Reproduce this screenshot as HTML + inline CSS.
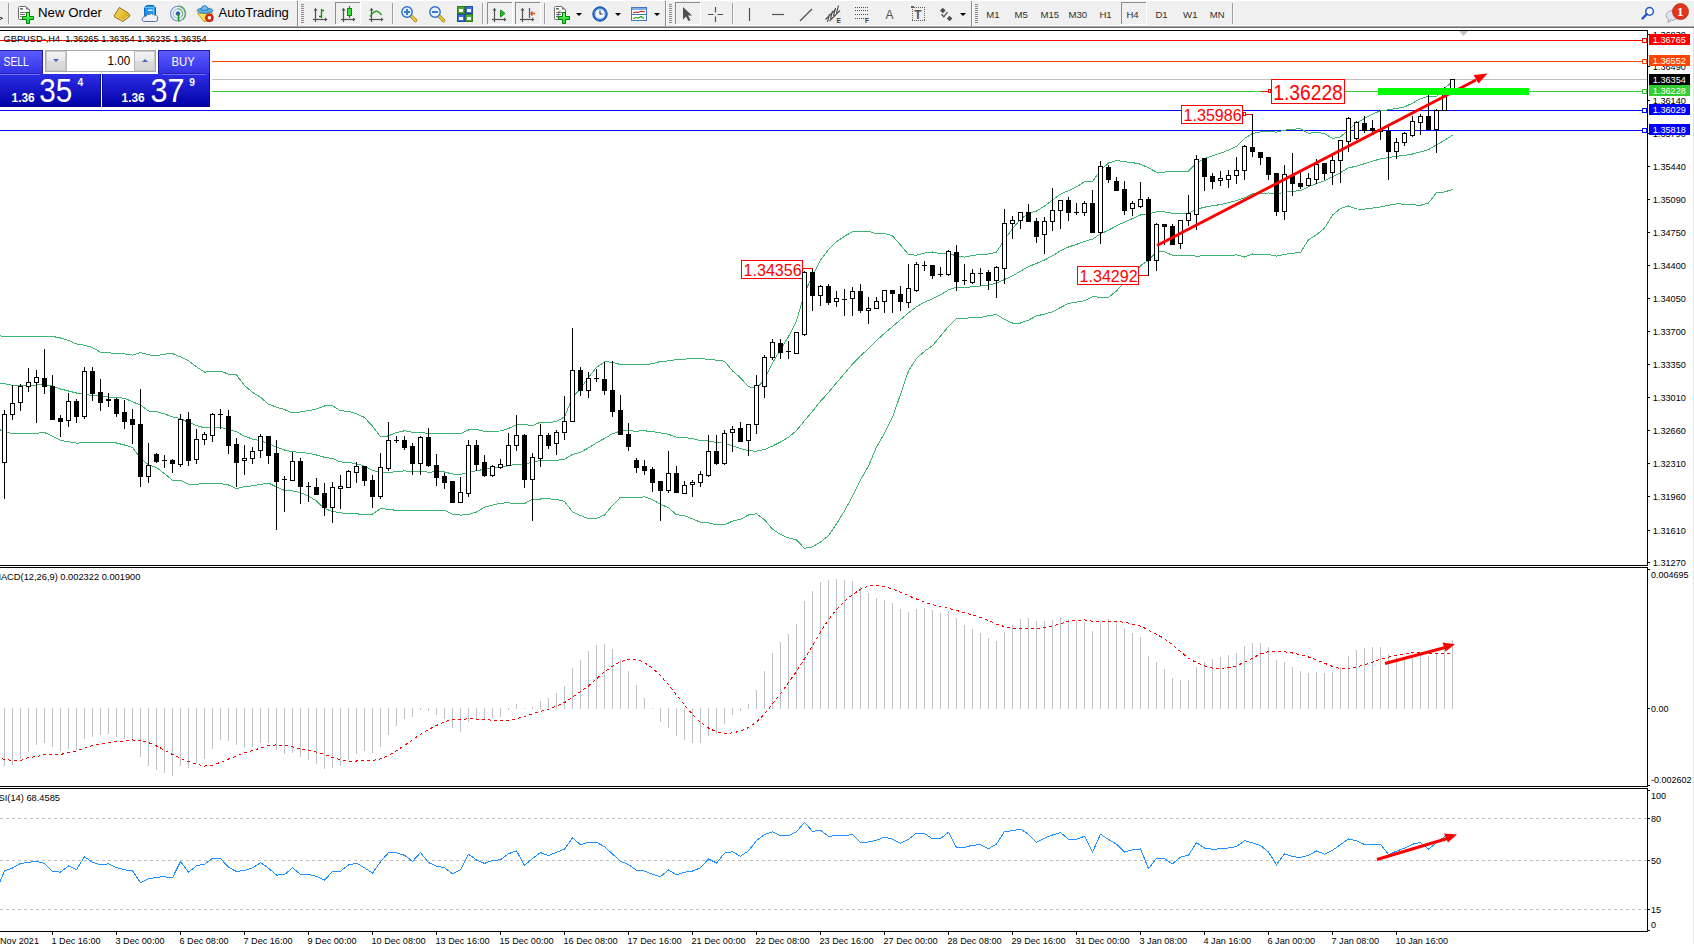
<!DOCTYPE html><html><head><meta charset="utf-8"><title>GBPUSD-,H4</title><style>
html,body{margin:0;padding:0;background:#fff;}
body{width:1694px;height:944px;overflow:hidden;position:relative;font-family:"Liberation Sans",Arial,sans-serif;}
svg{position:absolute;left:0;top:0;display:block;}
</style></head><body>
<svg width="1694" height="944" viewBox="0 0 1694 944" font-family="Liberation Sans, Arial, sans-serif">
<defs>
<linearGradient id="gTop" x1="0" y1="0" x2="0" y2="1"><stop offset="0" stop-color="#5d5dff"/><stop offset="1" stop-color="#3131e4"/></linearGradient>
<linearGradient id="gBot" x1="0" y1="0" x2="0" y2="1"><stop offset="0" stop-color="#2d2de6"/><stop offset="1" stop-color="#0000a4"/></linearGradient>
<linearGradient id="gBtn" x1="0" y1="0" x2="0" y2="1"><stop offset="0" stop-color="#f4f4f4"/><stop offset="0.5" stop-color="#e8e8e8"/><stop offset="0.5" stop-color="#dcdcdc"/><stop offset="1" stop-color="#d4d4d4"/></linearGradient>
<pattern id="pDot" width="2" height="2" patternUnits="userSpaceOnUse"><rect width="2" height="2" fill="#f7f7f7"/><rect width="1" height="1" fill="#e9e9e9"/><rect x="1" y="1" width="1" height="1" fill="#e9e9e9"/></pattern>
</defs>
<g id="toolbar">
<rect x="0" y="0" width="1694" height="26" fill="#f0f0f0"/>
<rect x="0" y="0" width="1694" height="1" fill="#ffffff"/>
<rect x="0" y="25" width="1694" height="1" fill="#f6f6f6"/>
<rect x="0" y="26" width="1694" height="1" fill="#a9a9a9"/>
<rect x="0" y="27" width="1694" height="1" fill="#6c6c6c"/>
<g shape-rendering="crispEdges"><rect x="297" y="1" width="1" height="25" fill="#8a8a8a"/><rect x="298" y="1" width="1" height="24" fill="#ffffff"/>
<rect x="665" y="1" width="1" height="25" fill="#8a8a8a"/><rect x="666" y="1" width="1" height="24" fill="#ffffff"/>
<rect x="971" y="1" width="1" height="25" fill="#8a8a8a"/><rect x="972" y="1" width="1" height="24" fill="#ffffff"/>
<rect x="301" y="4" width="3" height="1" fill="#8c8c8c"/>
<rect x="301" y="6" width="3" height="1" fill="#8c8c8c"/>
<rect x="301" y="8" width="3" height="1" fill="#8c8c8c"/>
<rect x="301" y="10" width="3" height="1" fill="#8c8c8c"/>
<rect x="301" y="12" width="3" height="1" fill="#8c8c8c"/>
<rect x="301" y="14" width="3" height="1" fill="#8c8c8c"/>
<rect x="301" y="16" width="3" height="1" fill="#8c8c8c"/>
<rect x="301" y="18" width="3" height="1" fill="#8c8c8c"/>
<rect x="301" y="20" width="3" height="1" fill="#8c8c8c"/>
<rect x="301" y="22" width="3" height="1" fill="#8c8c8c"/>
<rect x="669" y="4" width="3" height="1" fill="#8c8c8c"/>
<rect x="669" y="6" width="3" height="1" fill="#8c8c8c"/>
<rect x="669" y="8" width="3" height="1" fill="#8c8c8c"/>
<rect x="669" y="10" width="3" height="1" fill="#8c8c8c"/>
<rect x="669" y="12" width="3" height="1" fill="#8c8c8c"/>
<rect x="669" y="14" width="3" height="1" fill="#8c8c8c"/>
<rect x="669" y="16" width="3" height="1" fill="#8c8c8c"/>
<rect x="669" y="18" width="3" height="1" fill="#8c8c8c"/>
<rect x="669" y="20" width="3" height="1" fill="#8c8c8c"/>
<rect x="669" y="22" width="3" height="1" fill="#8c8c8c"/>
<rect x="975" y="4" width="3" height="1" fill="#8c8c8c"/>
<rect x="975" y="6" width="3" height="1" fill="#8c8c8c"/>
<rect x="975" y="8" width="3" height="1" fill="#8c8c8c"/>
<rect x="975" y="10" width="3" height="1" fill="#8c8c8c"/>
<rect x="975" y="12" width="3" height="1" fill="#8c8c8c"/>
<rect x="975" y="14" width="3" height="1" fill="#8c8c8c"/>
<rect x="975" y="16" width="3" height="1" fill="#8c8c8c"/>
<rect x="975" y="18" width="3" height="1" fill="#8c8c8c"/>
<rect x="975" y="20" width="3" height="1" fill="#8c8c8c"/>
<rect x="975" y="22" width="3" height="1" fill="#8c8c8c"/>
<rect x="8" y="3" width="1" height="21" fill="#a0a0a0"/><rect x="9" y="3" width="1" height="21" fill="#ffffff" opacity="0.6"/>
<rect x="392" y="3" width="1" height="21" fill="#a0a0a0"/><rect x="393" y="3" width="1" height="21" fill="#ffffff" opacity="0.6"/>
<rect x="482" y="3" width="1" height="21" fill="#a0a0a0"/><rect x="483" y="3" width="1" height="21" fill="#ffffff" opacity="0.6"/>
<rect x="544" y="3" width="1" height="21" fill="#a0a0a0"/><rect x="545" y="3" width="1" height="21" fill="#ffffff" opacity="0.6"/>
<rect x="732" y="3" width="1" height="21" fill="#a0a0a0"/><rect x="733" y="3" width="1" height="21" fill="#ffffff" opacity="0.6"/>
<rect x="1232" y="3" width="1" height="21" fill="#a0a0a0"/><rect x="1233" y="3" width="1" height="21" fill="#ffffff" opacity="0.6"/>
<rect x="335" y="2" width="25" height="22" fill="url(#pDot)"/>
<rect x="335" y="2" width="25" height="1" fill="#8c8c8c"/><rect x="335" y="2" width="1" height="22" fill="#8c8c8c"/>
<rect x="360" y="2" width="1" height="23" fill="#fff"/><rect x="335" y="24" width="26" height="1" fill="#fff"/>
<rect x="487" y="2" width="25" height="22" fill="url(#pDot)"/>
<rect x="487" y="2" width="25" height="1" fill="#8c8c8c"/><rect x="487" y="2" width="1" height="22" fill="#8c8c8c"/>
<rect x="512" y="2" width="1" height="23" fill="#fff"/><rect x="487" y="24" width="26" height="1" fill="#fff"/>
<rect x="515" y="2" width="25" height="22" fill="url(#pDot)"/>
<rect x="515" y="2" width="25" height="1" fill="#8c8c8c"/><rect x="515" y="2" width="1" height="22" fill="#8c8c8c"/>
<rect x="540" y="2" width="1" height="23" fill="#fff"/><rect x="515" y="24" width="26" height="1" fill="#fff"/>
<rect x="675" y="2" width="25" height="22" fill="url(#pDot)"/>
<rect x="675" y="2" width="25" height="1" fill="#8c8c8c"/><rect x="675" y="2" width="1" height="22" fill="#8c8c8c"/>
<rect x="700" y="2" width="1" height="23" fill="#fff"/><rect x="675" y="24" width="26" height="1" fill="#fff"/>
<rect x="1121" y="2" width="25" height="22" fill="url(#pDot)"/>
<rect x="1121" y="2" width="25" height="1" fill="#8c8c8c"/><rect x="1121" y="2" width="1" height="22" fill="#8c8c8c"/>
<rect x="1146" y="2" width="1" height="23" fill="#fff"/><rect x="1121" y="24" width="26" height="1" fill="#fff"/>
<path d="M0,17 L2,18.5 L0,20" fill="none" stroke="#404040" stroke-width="1"/></g>
<g><g transform="translate(18,6)">
<path d="M1.5,0.5 H8 L11.5,4 V12.5 Q11.5,13.5 10.5,13.5 H1.5 Q0.5,13.5 0.5,12.5 V1.5 Q0.5,0.5 1.5,0.5 Z" fill="#fff" stroke="#6e6e6e"/>
<path d="M8,0.8 V3.5 H11.2 Z" fill="#6e6e6e"/>
<rect x="2" y="2" width="3" height="1.6" fill="#6e6e6e"/><rect x="2" y="6" width="6" height="1" fill="#777"/><rect x="2" y="8" width="5" height="1" fill="#777"/><rect x="2" y="10" width="2" height="1" fill="#777"/>
<path d="M8.5,6.5 h3 v4 h4 v3 h-4 v4 h-3 v-4 h-4 v-3 h4 z" fill="#2fea3a" stroke="#067a06"/>
<rect x="9.3" y="7.3" width="1.4" height="4" fill="#9cff9c" opacity="0.8"/>
</g>
<text x="38" y="17.3" font-size="13.2" fill="#000" textLength="64" lengthAdjust="spacingAndGlyphs">New Order</text>
<defs><linearGradient id="gBook" x1="0" y1="0" x2="1" y2="1"><stop offset="0" stop-color="#f6de6a"/><stop offset="0.6" stop-color="#e2b82c"/><stop offset="1" stop-color="#c89418"/></linearGradient></defs>
<path d="M114.3,15.6 L119.4,7.4 L128.6,13.4 L130,16 L123,21.4 L114.6,17 Z" fill="url(#gBook)" stroke="#9c6410" stroke-linejoin="round"/>
<path d="M115.5,16.4 L122.8,20.2 L129,15.6" fill="none" stroke="#f3d98a" stroke-width="0.9"/>
<path d="M144.5,7.5 L146.5,5.5 H153.5 L155.5,7.5 V15.5 H144.5 Z" fill="#1d93ee" stroke="#0b62c0"/>
<path d="M144.5,7.5 H153.5 L155.5,5.5 M153.5,7.5 V15.5" fill="none" stroke="#7cc8ff" stroke-width="0.9"/>
<rect x="148" y="9.5" width="4.5" height="1.5" fill="#e8f6ff"/>
<path d="M143.5,21.5 Q141.3,20.5 142.5,18.3 Q143,16.2 145.6,16.6 Q146.6,13.8 149.6,14.3 Q151.5,12.6 153.6,14.8 Q157.8,14.8 157.6,18 Q158.4,21.5 155.5,21.5 Z" fill="#eef1f7" stroke="#5a74a4"/>
<g fill="none"><circle cx="178" cy="13.6" r="7.4" stroke="#6d93d8" stroke-width="1.1"/><path d="M178,6.2 A7.4,7.4 0 0 1 182.5,19.5" stroke="#5aa85a" stroke-width="1.3"/><circle cx="178" cy="13.6" r="4.7" stroke="#8fb0e6" stroke-width="1"/><path d="M178,8.9 A4.7,4.7 0 0 1 181.8,16.4" stroke="#6fba6f" stroke-width="1.1"/><circle cx="178" cy="13.6" r="1.8" fill="#2a58c8" stroke="#2a58c8"/><path d="M178.6,13.6 V21.5" stroke="#1aa01a" stroke-width="1.6"/></g>
<path d="M197.6,13.4 L212.6,12.9 L206.3,21.5 L204,21.5 Z" fill="#f7df55" stroke="#c7a01a" stroke-linejoin="round"/>
<ellipse cx="205" cy="10.6" rx="7.8" ry="2.6" fill="#63b0e6" stroke="#2b7db8"/>
<path d="M201,10.2 Q201,5.8 204.5,5.8 Q208,5.8 208,10.2 Z" fill="#78bdec" stroke="#2b7db8"/>
<circle cx="209.4" cy="17.8" r="3.9" fill="#e42a10" stroke="#a01606" stroke-width="0.8"/>
<rect x="207.9" y="16.3" width="3" height="3" fill="#fff"/>
<text x="218.5" y="17.3" font-size="13" fill="#000">AutoTrading</text>
<g transform="translate(313,8)" stroke="#505050" fill="#505050"><path d="M2.5,0.5 V14" stroke-width="1.2" fill="none"/><path d="M0.5,2.5 L2.5,0 L4.5,2.5 Z" stroke="none"/><path d="M0,11.5 H13" stroke-width="1.2" fill="none"/><path d="M12,9.5 L14.5,11.5 L12,13.5 Z" stroke="none"/></g>
<path d="M321.5,9 V18 M319,16.5 H321.5 M321.5,10.5 H324" stroke="#0b8a0b" stroke-width="1.3" fill="none"/>
<g transform="translate(341,8)" stroke="#505050" fill="#505050"><path d="M2.5,0.5 V14" stroke-width="1.2" fill="none"/><path d="M0.5,2.5 L2.5,0 L4.5,2.5 Z" stroke="none"/><path d="M0,11.5 H13" stroke-width="1.2" fill="none"/><path d="M12,9.5 L14.5,11.5 L12,13.5 Z" stroke="none"/></g>
<rect x="347.5" y="8.5" width="4" height="7" fill="#3fdc3f" stroke="#0a8a0a"/><path d="M349.5,6 V8.5 M349.5,15.5 V18" stroke="#0a8a0a" stroke-width="1.2"/>
<g transform="translate(369,8)" stroke="#505050" fill="#505050"><path d="M2.5,0.5 V14" stroke-width="1.2" fill="none"/><path d="M0.5,2.5 L2.5,0 L4.5,2.5 Z" stroke="none"/><path d="M0,11.5 H13" stroke-width="1.2" fill="none"/><path d="M12,9.5 L14.5,11.5 L12,13.5 Z" stroke="none"/></g>
<path d="M370,16.5 Q373,12 376,11.3 Q378.5,11 381.5,15" stroke="#2e9e2e" stroke-width="1.4" fill="none"/>
<g transform="translate(401,6)"><path d="M9.5,9.5 L14.5,14.5" stroke="#9c7c10" stroke-width="3.4" stroke-linecap="round"/><path d="M9.5,9.5 L14.5,14.5" stroke="#f0d040" stroke-width="2" stroke-linecap="round"/><circle cx="6" cy="6" r="5.2" fill="#e4f1ff" stroke="#2f6fc6" stroke-width="1.4"/>
<rect x="3" y="5" width="6" height="2" fill="#3a78c8"/>
<rect x="5" y="3" width="2" height="6" fill="#3a78c8"/>
</g>
<g transform="translate(429,6)"><path d="M9.5,9.5 L14.5,14.5" stroke="#9c7c10" stroke-width="3.4" stroke-linecap="round"/><path d="M9.5,9.5 L14.5,14.5" stroke="#f0d040" stroke-width="2" stroke-linecap="round"/><circle cx="6" cy="6" r="5.2" fill="#e4f1ff" stroke="#2f6fc6" stroke-width="1.4"/>
<rect x="3" y="5" width="6" height="2" fill="#3a78c8"/>
</g>
<g transform="translate(457,6)">
<rect x="0.5" y="0.5" width="7" height="7" fill="#49a834" stroke="#2f7d1e"/><rect x="2" y="3" width="4" height="3" fill="#fff"/>
<rect x="8.5" y="0.5" width="7" height="7" fill="#3c6fd8" stroke="#1f4aa6"/><rect x="10" y="3" width="4" height="3" fill="#fff"/>
<rect x="0.5" y="8.5" width="7" height="7" fill="#3c6fd8" stroke="#1f4aa6"/><rect x="2" y="11" width="4" height="3" fill="#fff"/>
<rect x="8.5" y="8.5" width="7" height="7" fill="#49a834" stroke="#2f7d1e"/><rect x="10" y="11" width="4" height="3" fill="#fff"/>
</g>
<g transform="translate(492,8)" stroke="#505050" fill="#505050"><path d="M2.5,0.5 V14" stroke-width="1.2" fill="none"/><path d="M0.5,2.5 L2.5,0 L4.5,2.5 Z" stroke="none"/><path d="M0,11.5 H13" stroke-width="1.2" fill="none"/><path d="M12,9.5 L14.5,11.5 L12,13.5 Z" stroke="none"/></g>
<path d="M500.5,10 L505,13.5 L500.5,17 Z" fill="#2cb82c" stroke="#139013" stroke-width="1"/>
<g transform="translate(520,8)" stroke="#505050" fill="#505050"><path d="M2.5,0.5 V14" stroke-width="1.2" fill="none"/><path d="M0.5,2.5 L2.5,0 L4.5,2.5 Z" stroke="none"/><path d="M0,11.5 H13" stroke-width="1.2" fill="none"/><path d="M12,9.5 L14.5,11.5 L12,13.5 Z" stroke="none"/></g>
<path d="M529.5,8 V18" stroke="#1f6fd0" stroke-width="1.3"/><path d="M530.5,13.5 H535 M530.5,13.5 L532.5,11.5 M530.5,13.5 L532.5,15.5" stroke="#e05010" stroke-width="1.3" fill="none"/>
<path d="M555.5,7.5 H561 L564.5,11 V19.5 H555.5 Z" fill="#f4f4f4" stroke="#8a8a8a"/>
<g transform="translate(554,6)">
<path d="M1.5,0.5 H8 L11.5,4 V12.5 Q11.5,13.5 10.5,13.5 H1.5 Q0.5,13.5 0.5,12.5 V1.5 Q0.5,0.5 1.5,0.5 Z" fill="#fff" stroke="#6e6e6e"/>
<path d="M8,0.8 V3.5 H11.2 Z" fill="#6e6e6e"/>
<rect x="2" y="2" width="3" height="1.6" fill="#6e6e6e"/><rect x="2" y="6" width="6" height="1" fill="#777"/><rect x="2" y="8" width="5" height="1" fill="#777"/><rect x="2" y="10" width="2" height="1" fill="#777"/>
<path d="M8.5,6.5 h3 v4 h4 v3 h-4 v4 h-3 v-4 h-4 v-3 h4 z" fill="#2fea3a" stroke="#067a06"/>
<rect x="9.3" y="7.3" width="1.4" height="4" fill="#9cff9c" opacity="0.8"/>
</g>
<text x="557.2" y="16" font-size="9" font-style="italic" font-family="Liberation Serif, serif" fill="#444">f</text>
<path d="M576,13 H582 L579,16 Z" fill="#000"/>
<path d="M615,13 H621 L618,16 Z" fill="#000"/>
<path d="M654,13 H660 L657,16 Z" fill="#000"/>
<path d="M960,13 H966 L963,16 Z" fill="#000"/>
<g transform="translate(592,6)"><circle cx="8" cy="8" r="7.2" fill="#2a72d0" stroke="#164f9e"/><circle cx="8" cy="8" r="5" fill="#f4f8ff" stroke="#9cc1ec"/><path d="M8,4.5 V8 H10.5" stroke="#303030" stroke-width="1.1" fill="none"/><path d="M8,3.3 V4 M8,12 V12.7 M3.3,8 H4 M12,8 H12.7" stroke="#7090c0" stroke-width="0.8"/></g>
<g transform="translate(631,7)"><rect x="0.5" y="0.5" width="15" height="13" fill="#fff" stroke="#3f78c8"/><rect x="1" y="1" width="14" height="2" fill="#7fb0e8"/><rect x="1" y="7" width="14" height="1" fill="#3f78c8"/><path d="M2,6 L5,5 L7,5.5 L10,4.2 L14,4.8" stroke="#b02818" fill="none" stroke-width="1.1"/><path d="M2,11.5 L5,10.5 L7,11.2 L10,9.5 L13,11.5" stroke="#159a15" fill="none" stroke-width="1.1"/></g>
<path d="M683,7 L683,19.5 L686,16.5 L688.5,21 L690.5,20 L688,15.5 L692,15.5 Z" fill="#505050"/>
<path d="M715.5,7 V12.5 M715.5,16.5 V22 M708,14.5 H713.5 M717.5,14.5 H723" stroke="#505050" stroke-width="1.2"/>
<path d="M749.5,8 V21" stroke="#505050" stroke-width="1.2"/>
<path d="M772,14.5 H784" stroke="#505050" stroke-width="1.2"/>
<path d="M800,21 L812,9" stroke="#505050" stroke-width="1.2"/>
<path d="M825.5,19.5 L836,9 M829.5,21 L840,10.5 M827.5,22 L829.5,14 M830.5,19 L832.5,11 M833.5,16 L835.5,8 M836.5,13 L838.5,5.5" stroke="#505050" stroke-width="1.1" fill="none"/><text x="836.5" y="22.6" font-size="6.6" font-weight="bold" fill="#404040">E</text>
<g fill="#505050">
<rect x="855" y="7" width="1" height="1"/>
<rect x="857" y="7" width="1" height="1"/>
<rect x="859" y="7" width="1" height="1"/>
<rect x="861" y="7" width="1" height="1"/>
<rect x="863" y="7" width="1" height="1"/>
<rect x="865" y="7" width="1" height="1"/>
<rect x="867" y="7" width="1" height="1"/>
<rect x="855" y="10" width="1" height="1"/>
<rect x="857" y="10" width="1" height="1"/>
<rect x="859" y="10" width="1" height="1"/>
<rect x="861" y="10" width="1" height="1"/>
<rect x="863" y="10" width="1" height="1"/>
<rect x="865" y="10" width="1" height="1"/>
<rect x="867" y="10" width="1" height="1"/>
<rect x="855" y="14" width="1" height="1"/>
<rect x="857" y="14" width="1" height="1"/>
<rect x="859" y="14" width="1" height="1"/>
<rect x="861" y="14" width="1" height="1"/>
<rect x="863" y="14" width="1" height="1"/>
<rect x="865" y="14" width="1" height="1"/>
<rect x="867" y="14" width="1" height="1"/>
<rect x="855" y="18" width="1" height="1"/>
<rect x="857" y="18" width="1" height="1"/>
<rect x="859" y="18" width="1" height="1"/>
<rect x="861" y="18" width="1" height="1"/>
<rect x="863" y="18" width="1" height="1"/>
<rect x="865" y="18" width="1" height="1"/>
<rect x="867" y="18" width="1" height="1"/>
</g><text x="865" y="22.5" font-size="6.5" font-weight="bold" fill="#404040">F</text>
<text x="885.6" y="19" font-size="12" fill="#505050">A</text>
<g fill="#606060" shape-rendering="crispEdges"><rect x="912" y="7" width="1" height="1"/><rect x="912" y="20" width="1" height="1"/><rect x="914" y="7" width="1" height="1"/><rect x="914" y="20" width="1" height="1"/><rect x="916" y="7" width="1" height="1"/><rect x="916" y="20" width="1" height="1"/><rect x="918" y="7" width="1" height="1"/><rect x="918" y="20" width="1" height="1"/><rect x="920" y="7" width="1" height="1"/><rect x="920" y="20" width="1" height="1"/><rect x="922" y="7" width="1" height="1"/><rect x="922" y="20" width="1" height="1"/><rect x="924" y="7" width="1" height="1"/><rect x="924" y="20" width="1" height="1"/><rect x="912" y="9" width="1" height="1"/><rect x="924" y="9" width="1" height="1"/><rect x="912" y="11" width="1" height="1"/><rect x="924" y="11" width="1" height="1"/><rect x="912" y="13" width="1" height="1"/><rect x="924" y="13" width="1" height="1"/><rect x="912" y="15" width="1" height="1"/><rect x="924" y="15" width="1" height="1"/><rect x="912" y="17" width="1" height="1"/><rect x="924" y="17" width="1" height="1"/><rect x="912" y="19" width="1" height="1"/><rect x="924" y="19" width="1" height="1"/><rect x="911" y="6" width="3" height="2"/></g><text x="914.2" y="18.6" font-size="12" font-weight="bold" fill="#555">T</text>
<path d="M940,10.5 L942.8,7.7 L945.6,10.5 L942.8,13.3 Z M946.8,18.5 L949.6,15.7 L952.4,18.5 L949.6,21.3 Z" fill="#505050"/><path d="M941.5,14.2 L943.8,16.8 L947.5,12.2" stroke="#505050" stroke-width="1.3" fill="none"/>
<text x="986.3" y="18" font-size="9.6" fill="#303030">M1</text>
<text x="1014.6" y="18" font-size="9.6" fill="#303030">M5</text>
<text x="1040.5" y="18" font-size="9.6" fill="#303030">M15</text>
<text x="1068.4" y="18" font-size="9.6" fill="#303030">M30</text>
<text x="1099.4" y="18" font-size="9.6" fill="#303030">H1</text>
<text x="1126.4" y="18" font-size="9.6" fill="#303030">H4</text>
<text x="1155.4" y="18" font-size="9.6" fill="#303030">D1</text>
<text x="1183.1" y="18" font-size="9.6" fill="#303030">W1</text>
<text x="1209.7" y="18" font-size="9.6" fill="#303030">MN</text>
<g transform="translate(1641,6)"><circle cx="8.5" cy="5.4" r="3.8" fill="#fff" stroke="#2456c8" stroke-width="1.5"/><path d="M5.8,8.2 L1.5,12.5" stroke="#2456c8" stroke-width="2.4" stroke-linecap="round"/></g>
<g transform="translate(1666,10)"><ellipse cx="6" cy="5.5" rx="5.8" ry="4.8" fill="#e3e6ef" stroke="#a8a8a8"/><path d="M2.5,9 L2,12.5 L5.5,10" fill="#e3e6ef" stroke="#a8a8a8"/></g>
<circle cx="1680.5" cy="11.6" r="8" fill="#e0341c"/><circle cx="1680.5" cy="11.6" r="8" fill="none" stroke="#c42a14" stroke-width="0.8"/><text x="1677" y="16.2" font-size="13" font-family="Liberation Serif, serif" font-weight="bold" fill="#fff">1</text></g>
</g>
<g id="chart" shape-rendering="crispEdges">
<rect x="0" y="30" width="1648" height="1" fill="#000"/>
<rect x="1647" y="30" width="1" height="536" fill="#000"/>
<rect x="0" y="565" width="1648" height="1" fill="#000"/>
<rect x="0" y="567" width="1648" height="1" fill="#000"/>
<rect x="1647" y="567" width="1" height="220" fill="#000"/>
<rect x="0" y="786" width="1648" height="1" fill="#000"/>
<rect x="0" y="788" width="1648" height="1" fill="#000"/>
<rect x="1647" y="788" width="1" height="144" fill="#000"/>
<rect x="0" y="931" width="1648" height="1" fill="#000"/>
<rect x="1693" y="28" width="1" height="916" fill="#e3e3e3"/>
</g>
<g shape-rendering="crispEdges">
<rect x="0" y="79" width="1647" height="1" fill="#c0c0c0"/>
<rect x="0" y="40" width="1642" height="1" fill="#ff0000"/>
<rect x="1642.5" y="38.5" width="4" height="4" fill="#fff" stroke="#ff0000" stroke-width="1"/>
<rect x="0" y="61" width="1642" height="1" fill="#ff4500"/>
<rect x="1642.5" y="59.5" width="4" height="4" fill="#fff" stroke="#ff4500" stroke-width="1"/>
<rect x="0" y="91" width="1642" height="1" fill="#32cd32"/>
<rect x="1642.5" y="89.5" width="4" height="4" fill="#fff" stroke="#32cd32" stroke-width="1"/>
<rect x="0" y="110" width="1642" height="1" fill="#0000ff"/>
<rect x="1642.5" y="108.5" width="4" height="4" fill="#fff" stroke="#0000ff" stroke-width="1"/>
<rect x="0" y="130" width="1642" height="1" fill="#0000ff"/>
<rect x="1642.5" y="128.5" width="4" height="4" fill="#fff" stroke="#0000ff" stroke-width="1"/>
</g>
<g id="bb">
<polyline points="-3.5,335.5 4.5,336.5 12.5,337 20.5,336.6 28.5,336.4 36.5,336.4 44.5,336.4 52.5,336.4 60.5,338 68.5,340.5 76.5,344 84.5,345.3 92.5,347.5 100.5,352.2 108.5,352.8 116.5,353.4 124.5,354 132.5,355.1 140.5,352.6 148.5,354.8 156.5,355.7 164.5,354.1 172.5,353.6 180.5,356.9 188.5,360.6 196.5,366.9 204.5,372.1 212.5,371.6 220.5,371.1 228.5,374.1 236.5,375 244.5,385.6 252.5,392.3 260.5,397.3 268.5,404.2 276.5,407.1 284.5,409.6 292.5,412.9 300.5,411.9 308.5,410.7 316.5,408.9 324.5,406 332.5,405.6 340.5,410.8 348.5,411.3 356.5,413.7 364.5,417.5 372.5,426.2 380.5,436.8 388.5,435.9 396.5,432.5 404.5,430.8 412.5,432.2 420.5,432.3 428.5,433.5 436.5,433.5 444.5,433.5 452.5,433.7 460.5,433.5 468.5,430 476.5,429.5 484.5,431.3 492.5,431.1 500.5,431 508.5,428.5 516.5,424.7 524.5,424.7 532.5,425.5 540.5,422.2 548.5,422.8 556.5,421.4 564.5,416.9 572.5,397.3 580.5,388.8 588.5,377.2 596.5,367.5 604.5,361.8 612.5,362.2 620.5,364.6 628.5,364.6 636.5,364.4 644.5,364.8 652.5,363.6 660.5,361.5 668.5,360.9 676.5,359.6 684.5,359.2 692.5,358.4 700.5,358.9 708.5,359.1 716.5,360.2 724.5,361.2 732.5,370.9 740.5,377.8 748.5,386.7 756.5,388.6 764.5,379.3 772.5,363.1 780.5,349.4 788.5,336.6 796.5,321.1 804.5,293 812.5,275.8 820.5,260.2 828.5,249.5 836.5,241.8 844.5,236.2 852.5,231.7 860.5,231.8 868.5,231.2 876.5,234 884.5,233.6 892.5,235.8 900.5,245 908.5,254.6 916.5,255.2 924.5,253.1 932.5,252 940.5,253.8 948.5,253.2 956.5,256.1 964.5,257.1 972.5,255.6 980.5,254.3 988.5,254 996.5,252.1 1004.5,239.7 1012.5,228.9 1020.5,219.1 1028.5,213.4 1036.5,211 1044.5,206 1052.5,200 1060.5,194.1 1068.5,190.7 1076.5,186.8 1084.5,181.8 1092.5,181.6 1100.5,170.4 1108.5,163 1116.5,160.5 1124.5,161.8 1132.5,162.6 1140.5,164.2 1148.5,167.8 1156.5,172.1 1164.5,172.1 1172.5,171.1 1180.5,171.3 1188.5,171.1 1196.5,162.6 1204.5,158.6 1212.5,155.8 1220.5,153.3 1228.5,150.1 1236.5,146.3 1244.5,138.5 1252.5,133.4 1260.5,132 1268.5,131.5 1276.5,132.1 1284.5,130.2 1292.5,129.3 1300.5,128.7 1308.5,133.3 1316.5,132.4 1324.5,133.5 1332.5,138.4 1340.5,136.9 1348.5,129.8 1356.5,123.1 1364.5,118.4 1372.5,114.3 1380.5,110.6 1388.5,109.9 1396.5,108.4 1404.5,106.9 1412.5,103.2 1420.5,98.6 1428.5,96.4 1436.5,96.7 1444.5,88.7 1452.5,81" fill="none" stroke="#3cb371" stroke-width="1" shape-rendering="crispEdges"/>
<polyline points="-3.5,382.5 4.5,383.8 12.5,385.3 20.5,385.3 28.5,385.3 36.5,385 44.5,384.8 52.5,386 60.5,389 68.5,391 76.5,393 84.5,394.3 92.5,395.5 100.5,396.3 108.5,397 116.5,397.5 124.5,398.3 132.5,401.8 140.5,405 148.5,411 156.5,411.6 164.5,413.9 172.5,416.9 180.5,418.6 188.5,422.4 196.5,425.5 204.5,427.9 212.5,427.7 220.5,427.4 228.5,429.5 236.5,431.8 244.5,436.2 252.5,439.1 260.5,440.8 268.5,443.6 276.5,447 284.5,450 292.5,451.8 300.5,452.3 308.5,453.3 316.5,455 324.5,457.3 332.5,458.5 340.5,461.9 348.5,462.4 356.5,463.8 364.5,466.1 372.5,470.1 380.5,472.8 388.5,472.6 396.5,471.5 404.5,470.9 412.5,471.5 420.5,471.5 428.5,472.1 436.5,471.9 444.5,472 452.5,474 460.5,474.3 468.5,472.3 476.5,470.8 484.5,469.2 492.5,468.1 500.5,467 508.5,465.7 516.5,464.2 524.5,464.2 532.5,462.2 540.5,460.6 548.5,460.8 556.5,460.4 564.5,459.2 572.5,454.5 580.5,452.2 588.5,447.9 596.5,442.9 604.5,438.4 612.5,433.8 620.5,430.9 628.5,430.9 636.5,431.1 644.5,430.8 652.5,431.6 660.5,432.9 668.5,434.3 676.5,437.1 684.5,437.4 692.5,438.7 700.5,440.6 708.5,440.9 716.5,442.5 724.5,443.1 732.5,446 740.5,448.5 748.5,450.8 756.5,451.2 764.5,449.5 772.5,446.1 780.5,442 788.5,437.3 796.5,430.5 804.5,420.7 812.5,411.3 820.5,401.1 828.5,392.5 836.5,382.9 844.5,373.5 852.5,364 860.5,355.8 868.5,348.6 876.5,340.5 884.5,333.4 892.5,326.6 900.5,319.6 908.5,312.8 916.5,306.8 924.5,302.2 932.5,298.8 940.5,294.9 948.5,289.9 956.5,287.3 964.5,287.7 972.5,286.6 980.5,286 988.5,284.9 996.5,283.3 1004.5,279.5 1012.5,275.9 1020.5,271.1 1028.5,266.7 1036.5,263.4 1044.5,260 1052.5,255.9 1060.5,250.8 1068.5,247 1076.5,244.4 1084.5,241.3 1092.5,239.2 1100.5,233.8 1108.5,230.2 1116.5,225.7 1124.5,222.2 1132.5,218.6 1140.5,215 1148.5,214 1156.5,211.8 1164.5,212 1172.5,213.2 1180.5,213.6 1188.5,213.2 1196.5,209.4 1204.5,207.2 1212.5,205.7 1220.5,204.6 1228.5,202.7 1236.5,200.6 1244.5,197.8 1252.5,193.7 1260.5,193.3 1268.5,193 1276.5,194.1 1284.5,192.3 1292.5,191.3 1300.5,190.6 1308.5,186.6 1316.5,183.6 1324.5,180.9 1332.5,176.7 1340.5,172.7 1348.5,167.9 1356.5,166.1 1364.5,163.7 1372.5,161.2 1380.5,158.8 1388.5,157.6 1396.5,156.2 1404.5,155.5 1412.5,154 1420.5,151.9 1428.5,149.7 1436.5,144.7 1444.5,140.4 1452.5,135.2" fill="none" stroke="#3cb371" stroke-width="1" shape-rendering="crispEdges"/>
<polyline points="-3.5,428.5 4.5,431.5 12.5,433.6 20.5,433.6 28.5,433.6 36.5,433.2 44.5,432.5 52.5,436.3 60.5,440.3 68.5,441.8 76.5,443.1 84.5,442.8 92.5,442.4 100.5,442.1 108.5,442.5 116.5,443 124.5,445 132.5,447.6 140.5,458 148.5,465 156.5,467.5 164.5,473.7 172.5,480.2 180.5,480.2 188.5,484.2 196.5,484.1 204.5,483.8 212.5,483.7 220.5,483.6 228.5,485 236.5,488.6 244.5,486.7 252.5,485.9 260.5,484.4 268.5,483.1 276.5,486.9 284.5,490.4 292.5,490.8 300.5,492.7 308.5,496 316.5,501 324.5,508.6 332.5,511.4 340.5,512.9 348.5,513.6 356.5,513.8 364.5,514.6 372.5,514.1 380.5,508.7 388.5,509.2 396.5,510.5 404.5,511 412.5,510.8 420.5,510.7 428.5,510.6 436.5,510.2 444.5,510.4 452.5,514.3 460.5,515.1 468.5,514.6 476.5,512 484.5,507.1 492.5,505.1 500.5,503.1 508.5,502.9 516.5,503.6 524.5,503.6 532.5,499 540.5,499 548.5,498.8 556.5,499.5 564.5,501.4 572.5,511.8 580.5,515.6 588.5,518.6 596.5,518.4 604.5,515 612.5,505.4 620.5,497.2 628.5,497.3 636.5,497.7 644.5,496.8 652.5,499.6 660.5,504.3 668.5,507.7 676.5,514.7 684.5,515.7 692.5,518.9 700.5,522.3 708.5,522.8 716.5,524.8 724.5,524.9 732.5,521.1 740.5,519.3 748.5,515 756.5,513.8 764.5,519.8 772.5,529.1 780.5,534.5 788.5,537.9 796.5,540 804.5,548.3 812.5,546.9 820.5,542 828.5,535.6 836.5,523.9 844.5,510.9 852.5,496.3 860.5,479.7 868.5,466.1 876.5,447.1 884.5,433.1 892.5,417.3 900.5,394.3 908.5,371 916.5,358.3 924.5,351.3 932.5,345.6 940.5,336 948.5,326.5 956.5,318.5 964.5,318.3 972.5,317.7 980.5,317.6 988.5,315.7 996.5,314.5 1004.5,319.3 1012.5,323 1020.5,323 1028.5,320.1 1036.5,315.9 1044.5,314.1 1052.5,311.8 1060.5,307.5 1068.5,303.4 1076.5,302.1 1084.5,300.8 1092.5,296.8 1100.5,297.2 1108.5,297.4 1116.5,290.9 1124.5,282.5 1132.5,274.7 1140.5,265.8 1148.5,260.2 1156.5,251.6 1164.5,251.9 1172.5,255.3 1180.5,255.9 1188.5,255.3 1196.5,256.2 1204.5,255.8 1212.5,255.6 1220.5,255.8 1228.5,255.4 1236.5,254.9 1244.5,257 1252.5,254 1260.5,254.5 1268.5,254.6 1276.5,256.1 1284.5,254.4 1292.5,253.3 1300.5,252.5 1308.5,239.8 1316.5,234.7 1324.5,228.2 1332.5,215 1340.5,208.5 1348.5,206 1356.5,209 1364.5,209.1 1372.5,208.1 1380.5,206.9 1388.5,205.2 1396.5,203.9 1404.5,204.1 1412.5,204.8 1420.5,205.3 1428.5,203 1436.5,192.6 1444.5,192 1452.5,189.4" fill="none" stroke="#3cb371" stroke-width="1" shape-rendering="crispEdges"/>
</g>
<rect x="741.5" y="260.5" width="61" height="18" fill="#fff" stroke="#ff0000" shape-rendering="crispEdges"/>
<text x="743.6" y="275.6" font-size="16" fill="#ff0000" textLength="58" lengthAdjust="spacingAndGlyphs">1.34356</text>
<polyline points="802.5,268.5 812.5,268.5" fill="none" stroke="#ff0000" shape-rendering="crispEdges"/>
<rect x="1077.5" y="266.5" width="61" height="18" fill="#fff" stroke="#ff0000" shape-rendering="crispEdges"/>
<text x="1079.6" y="281.6" font-size="16" fill="#ff0000" textLength="58" lengthAdjust="spacingAndGlyphs">1.34292</text>
<polyline points="1138.5,275.5 1148.5,275.5" fill="none" stroke="#ff0000" shape-rendering="crispEdges"/>
<rect x="1181.5" y="105.5" width="61" height="18" fill="#fff" stroke="#ff0000" shape-rendering="crispEdges"/>
<text x="1183.6" y="120.6" font-size="16" fill="#ff0000" textLength="58" lengthAdjust="spacingAndGlyphs">1.35986</text>
<polyline points="1242.5,114.5 1252.5,114.5" fill="none" stroke="#ff0000" shape-rendering="crispEdges"/>
<rect x="1243.5" y="112.5" width="2" height="3" fill="#fff" stroke="#ff0000" shape-rendering="crispEdges"/>
<rect x="1271.5" y="79.5" width="73" height="24" fill="#fff" stroke="#ff0000" shape-rendering="crispEdges"/>
<text x="1273.3" y="99.6" font-size="21.5" fill="#ff0000" textLength="69.5" lengthAdjust="spacingAndGlyphs">1.36228</text>
<polyline points="1261,91.5 1268.5,91.5" fill="none" stroke="#ff0000" shape-rendering="crispEdges"/>
<rect x="1268.5" y="89.5" width="2" height="3" fill="#fff" stroke="#ff0000" shape-rendering="crispEdges"/>
<g id="candles" shape-rendering="crispEdges">
<rect x="4" y="410" width="1" height="89" fill="#000"/>
<rect x="2.5" y="414.5" width="4" height="48" fill="#fff" stroke="#000"/>
<rect x="12" y="385" width="1" height="35" fill="#000"/>
<rect x="10.5" y="403.5" width="4" height="11" fill="#fff" stroke="#000"/>
<rect x="20" y="384" width="1" height="27" fill="#000"/>
<rect x="18.5" y="386.5" width="4" height="16" fill="#fff" stroke="#000"/>
<rect x="28" y="368" width="1" height="24" fill="#000"/>
<rect x="26.5" y="382.5" width="4" height="4" fill="#fff" stroke="#000"/>
<rect x="36" y="370" width="1" height="53" fill="#000"/>
<rect x="34.5" y="377.5" width="4" height="5" fill="#fff" stroke="#000"/>
<rect x="44" y="349" width="1" height="45" fill="#000"/>
<rect x="42" y="378" width="5" height="9" fill="#000"/>
<rect x="52" y="375" width="1" height="45" fill="#000"/>
<rect x="50" y="386" width="5" height="34" fill="#000"/>
<rect x="60" y="415" width="1" height="22" fill="#000"/>
<rect x="58" y="418" width="5" height="4" fill="#000"/>
<rect x="68" y="393" width="1" height="34" fill="#000"/>
<rect x="66.5" y="401.5" width="4" height="19" fill="#fff" stroke="#000"/>
<rect x="76" y="399" width="1" height="24" fill="#000"/>
<rect x="74" y="401" width="5" height="16" fill="#000"/>
<rect x="84" y="367" width="1" height="52" fill="#000"/>
<rect x="82.5" y="371.5" width="4" height="45" fill="#fff" stroke="#000"/>
<rect x="92" y="367" width="1" height="34" fill="#000"/>
<rect x="90" y="371" width="5" height="23" fill="#000"/>
<rect x="100" y="379" width="1" height="32" fill="#000"/>
<rect x="98" y="392" width="5" height="11" fill="#000"/>
<rect x="108" y="393" width="1" height="14" fill="#000"/>
<rect x="106" y="399" width="5" height="2" fill="#000"/>
<rect x="116" y="398" width="1" height="19" fill="#000"/>
<rect x="114" y="399" width="5" height="15" fill="#000"/>
<rect x="124" y="400" width="1" height="29" fill="#000"/>
<rect x="122" y="412" width="5" height="10" fill="#000"/>
<rect x="132" y="409" width="1" height="35" fill="#000"/>
<rect x="130" y="419" width="5" height="6" fill="#000"/>
<rect x="140" y="389" width="1" height="98" fill="#000"/>
<rect x="138" y="424" width="5" height="53" fill="#000"/>
<rect x="148" y="443" width="1" height="40" fill="#000"/>
<rect x="146.5" y="465.5" width="4" height="11" fill="#fff" stroke="#000"/>
<rect x="156" y="453" width="1" height="10" fill="#000"/>
<rect x="154" y="454" width="5" height="8" fill="#000"/>
<rect x="164" y="455" width="1" height="13" fill="#000"/>
<rect x="162" y="460" width="5" height="1" fill="#000"/>
<rect x="172" y="459" width="1" height="14" fill="#000"/>
<rect x="170" y="460" width="5" height="4" fill="#000"/>
<rect x="180" y="414" width="1" height="53" fill="#000"/>
<rect x="178.5" y="419.5" width="4" height="45" fill="#fff" stroke="#000"/>
<rect x="188" y="412" width="1" height="54" fill="#000"/>
<rect x="186" y="419" width="5" height="42" fill="#000"/>
<rect x="196" y="429" width="1" height="35" fill="#000"/>
<rect x="194.5" y="439.5" width="4" height="20" fill="#fff" stroke="#000"/>
<rect x="204" y="432" width="1" height="13" fill="#000"/>
<rect x="202.5" y="434.5" width="4" height="5" fill="#fff" stroke="#000"/>
<rect x="212" y="413" width="1" height="29" fill="#000"/>
<rect x="210.5" y="414.5" width="4" height="21" fill="#fff" stroke="#000"/>
<rect x="220" y="409" width="1" height="20" fill="#000"/>
<rect x="218" y="414" width="5" height="1" fill="#000"/>
<rect x="228" y="410" width="1" height="44" fill="#000"/>
<rect x="226" y="416" width="5" height="30" fill="#000"/>
<rect x="236" y="438" width="1" height="49" fill="#000"/>
<rect x="234" y="444" width="5" height="19" fill="#000"/>
<rect x="244" y="445" width="1" height="30" fill="#000"/>
<rect x="242.5" y="458.5" width="4" height="2" fill="#fff" stroke="#000"/>
<rect x="252" y="447" width="1" height="17" fill="#000"/>
<rect x="250.5" y="451.5" width="4" height="7" fill="#fff" stroke="#000"/>
<rect x="260" y="434" width="1" height="24" fill="#000"/>
<rect x="258.5" y="436.5" width="4" height="14" fill="#fff" stroke="#000"/>
<rect x="268" y="436" width="1" height="28" fill="#000"/>
<rect x="266" y="436" width="5" height="20" fill="#000"/>
<rect x="276" y="440" width="1" height="90" fill="#000"/>
<rect x="274" y="453" width="5" height="29" fill="#000"/>
<rect x="284" y="476" width="1" height="36" fill="#000"/>
<rect x="282" y="479" width="5" height="1" fill="#000"/>
<rect x="292" y="452" width="1" height="29" fill="#000"/>
<rect x="290.5" y="461.5" width="4" height="19" fill="#fff" stroke="#000"/>
<rect x="300" y="458" width="1" height="46" fill="#000"/>
<rect x="298" y="461" width="5" height="26" fill="#000"/>
<rect x="308" y="482" width="1" height="20" fill="#000"/>
<rect x="306" y="486" width="5" height="1" fill="#000"/>
<rect x="316" y="478" width="1" height="17" fill="#000"/>
<rect x="314" y="487" width="5" height="8" fill="#000"/>
<rect x="324" y="483" width="1" height="33" fill="#000"/>
<rect x="322" y="493" width="5" height="15" fill="#000"/>
<rect x="332" y="482" width="1" height="41" fill="#000"/>
<rect x="330.5" y="487.5" width="4" height="20" fill="#fff" stroke="#000"/>
<rect x="340" y="475" width="1" height="34" fill="#000"/>
<rect x="338.5" y="486.5" width="4" height="2" fill="#fff" stroke="#000"/>
<rect x="348" y="470" width="1" height="18" fill="#000"/>
<rect x="346.5" y="471.5" width="4" height="16" fill="#fff" stroke="#000"/>
<rect x="356" y="462" width="1" height="21" fill="#000"/>
<rect x="354.5" y="466.5" width="4" height="6" fill="#fff" stroke="#000"/>
<rect x="364" y="466" width="1" height="20" fill="#000"/>
<rect x="362" y="466" width="5" height="15" fill="#000"/>
<rect x="372" y="475" width="1" height="33" fill="#000"/>
<rect x="370" y="480" width="5" height="17" fill="#000"/>
<rect x="380" y="453" width="1" height="46" fill="#000"/>
<rect x="378.5" y="467.5" width="4" height="29" fill="#fff" stroke="#000"/>
<rect x="388" y="422" width="1" height="49" fill="#000"/>
<rect x="386.5" y="440.5" width="4" height="28" fill="#fff" stroke="#000"/>
<rect x="396" y="436" width="1" height="7" fill="#000"/>
<rect x="394" y="440" width="5" height="1" fill="#000"/>
<rect x="404" y="436" width="1" height="14" fill="#000"/>
<rect x="402" y="440" width="5" height="8" fill="#000"/>
<rect x="412" y="443" width="1" height="32" fill="#000"/>
<rect x="410" y="446" width="5" height="18" fill="#000"/>
<rect x="420" y="436" width="1" height="39" fill="#000"/>
<rect x="418.5" y="437.5" width="4" height="26" fill="#fff" stroke="#000"/>
<rect x="428" y="428" width="1" height="39" fill="#000"/>
<rect x="426" y="437" width="5" height="29" fill="#000"/>
<rect x="436" y="454" width="1" height="32" fill="#000"/>
<rect x="434" y="465" width="5" height="13" fill="#000"/>
<rect x="444" y="473" width="1" height="16" fill="#000"/>
<rect x="442" y="476" width="5" height="7" fill="#000"/>
<rect x="452" y="481" width="1" height="22" fill="#000"/>
<rect x="450" y="481" width="5" height="22" fill="#000"/>
<rect x="460" y="477" width="1" height="26" fill="#000"/>
<rect x="458.5" y="492.5" width="4" height="10" fill="#fff" stroke="#000"/>
<rect x="468" y="440" width="1" height="57" fill="#000"/>
<rect x="466.5" y="445.5" width="4" height="48" fill="#fff" stroke="#000"/>
<rect x="476" y="440" width="1" height="31" fill="#000"/>
<rect x="474" y="445" width="5" height="20" fill="#000"/>
<rect x="484" y="455" width="1" height="22" fill="#000"/>
<rect x="482" y="462" width="5" height="14" fill="#000"/>
<rect x="492" y="465" width="1" height="12" fill="#000"/>
<rect x="490.5" y="466.5" width="4" height="9" fill="#fff" stroke="#000"/>
<rect x="500" y="459" width="1" height="10" fill="#000"/>
<rect x="498.5" y="464.5" width="4" height="3" fill="#fff" stroke="#000"/>
<rect x="508" y="433" width="1" height="33" fill="#000"/>
<rect x="506.5" y="445.5" width="4" height="20" fill="#fff" stroke="#000"/>
<rect x="516" y="415" width="1" height="36" fill="#000"/>
<rect x="514.5" y="435.5" width="4" height="10" fill="#fff" stroke="#000"/>
<rect x="524" y="434" width="1" height="54" fill="#000"/>
<rect x="522" y="435" width="5" height="45" fill="#000"/>
<rect x="532" y="453" width="1" height="68" fill="#000"/>
<rect x="530.5" y="457.5" width="4" height="22" fill="#fff" stroke="#000"/>
<rect x="540" y="424" width="1" height="43" fill="#000"/>
<rect x="538.5" y="435.5" width="4" height="23" fill="#fff" stroke="#000"/>
<rect x="548" y="433" width="1" height="16" fill="#000"/>
<rect x="546" y="435" width="5" height="11" fill="#000"/>
<rect x="556" y="430" width="1" height="25" fill="#000"/>
<rect x="554.5" y="432.5" width="4" height="11" fill="#fff" stroke="#000"/>
<rect x="564" y="396" width="1" height="44" fill="#000"/>
<rect x="562.5" y="421.5" width="4" height="11" fill="#fff" stroke="#000"/>
<rect x="572" y="328" width="1" height="94" fill="#000"/>
<rect x="570.5" y="370.5" width="4" height="51" fill="#fff" stroke="#000"/>
<rect x="580" y="367" width="1" height="29" fill="#000"/>
<rect x="578" y="370" width="5" height="21" fill="#000"/>
<rect x="588" y="372" width="1" height="26" fill="#000"/>
<rect x="586.5" y="378.5" width="4" height="12" fill="#fff" stroke="#000"/>
<rect x="596" y="369" width="1" height="13" fill="#000"/>
<rect x="594" y="378" width="5" height="1" fill="#000"/>
<rect x="604" y="362" width="1" height="33" fill="#000"/>
<rect x="602" y="379" width="5" height="12" fill="#000"/>
<rect x="612" y="361" width="1" height="56" fill="#000"/>
<rect x="610" y="390" width="5" height="22" fill="#000"/>
<rect x="620" y="395" width="1" height="40" fill="#000"/>
<rect x="618" y="410" width="5" height="25" fill="#000"/>
<rect x="628" y="423" width="1" height="28" fill="#000"/>
<rect x="626" y="434" width="5" height="13" fill="#000"/>
<rect x="636" y="458" width="1" height="15" fill="#000"/>
<rect x="634" y="460" width="5" height="8" fill="#000"/>
<rect x="644" y="460" width="1" height="15" fill="#000"/>
<rect x="642" y="466" width="5" height="5" fill="#000"/>
<rect x="652" y="467" width="1" height="25" fill="#000"/>
<rect x="650" y="469" width="5" height="14" fill="#000"/>
<rect x="660" y="481" width="1" height="40" fill="#000"/>
<rect x="658" y="481" width="5" height="10" fill="#000"/>
<rect x="668" y="451" width="1" height="42" fill="#000"/>
<rect x="666.5" y="473.5" width="4" height="17" fill="#fff" stroke="#000"/>
<rect x="676" y="466" width="1" height="27" fill="#000"/>
<rect x="674" y="473" width="5" height="20" fill="#000"/>
<rect x="684" y="481" width="1" height="13" fill="#000"/>
<rect x="682.5" y="485.5" width="4" height="8" fill="#fff" stroke="#000"/>
<rect x="692" y="480" width="1" height="17" fill="#000"/>
<rect x="690.5" y="482.5" width="4" height="2" fill="#fff" stroke="#000"/>
<rect x="700" y="471" width="1" height="16" fill="#000"/>
<rect x="698.5" y="474.5" width="4" height="8" fill="#fff" stroke="#000"/>
<rect x="708" y="435" width="1" height="42" fill="#000"/>
<rect x="706.5" y="451.5" width="4" height="24" fill="#fff" stroke="#000"/>
<rect x="716" y="435" width="1" height="30" fill="#000"/>
<rect x="714" y="451" width="5" height="13" fill="#000"/>
<rect x="724" y="430" width="1" height="35" fill="#000"/>
<rect x="722.5" y="433.5" width="4" height="30" fill="#fff" stroke="#000"/>
<rect x="732" y="426" width="1" height="26" fill="#000"/>
<rect x="730.5" y="429.5" width="4" height="3" fill="#fff" stroke="#000"/>
<rect x="740" y="422" width="1" height="20" fill="#000"/>
<rect x="738" y="428" width="5" height="14" fill="#000"/>
<rect x="748" y="424" width="1" height="32" fill="#000"/>
<rect x="746.5" y="424.5" width="4" height="16" fill="#fff" stroke="#000"/>
<rect x="756" y="375" width="1" height="59" fill="#000"/>
<rect x="754.5" y="385.5" width="4" height="39" fill="#fff" stroke="#000"/>
<rect x="764" y="355" width="1" height="43" fill="#000"/>
<rect x="762.5" y="357.5" width="4" height="29" fill="#fff" stroke="#000"/>
<rect x="772" y="339" width="1" height="21" fill="#000"/>
<rect x="770.5" y="342.5" width="4" height="15" fill="#fff" stroke="#000"/>
<rect x="780" y="339" width="1" height="20" fill="#000"/>
<rect x="778" y="343" width="5" height="10" fill="#000"/>
<rect x="788" y="341" width="1" height="18" fill="#000"/>
<rect x="786" y="351" width="5" height="1" fill="#000"/>
<rect x="796" y="332" width="1" height="22" fill="#000"/>
<rect x="794.5" y="332.5" width="4" height="21" fill="#fff" stroke="#000"/>
<rect x="804" y="271" width="1" height="65" fill="#000"/>
<rect x="802.5" y="272.5" width="4" height="62" fill="#fff" stroke="#000"/>
<rect x="812" y="269" width="1" height="42" fill="#000"/>
<rect x="810" y="272" width="5" height="24" fill="#000"/>
<rect x="820" y="285" width="1" height="21" fill="#000"/>
<rect x="818.5" y="286.5" width="4" height="9" fill="#fff" stroke="#000"/>
<rect x="828" y="284" width="1" height="21" fill="#000"/>
<rect x="826" y="286" width="5" height="17" fill="#000"/>
<rect x="836" y="291" width="1" height="16" fill="#000"/>
<rect x="834.5" y="298.5" width="4" height="3" fill="#fff" stroke="#000"/>
<rect x="844" y="289" width="1" height="27" fill="#000"/>
<rect x="842" y="299" width="5" height="1" fill="#000"/>
<rect x="852" y="287" width="1" height="29" fill="#000"/>
<rect x="850.5" y="291.5" width="4" height="7" fill="#fff" stroke="#000"/>
<rect x="860" y="284" width="1" height="29" fill="#000"/>
<rect x="858" y="291" width="5" height="20" fill="#000"/>
<rect x="868" y="297" width="1" height="27" fill="#000"/>
<rect x="866.5" y="308.5" width="4" height="2" fill="#fff" stroke="#000"/>
<rect x="876" y="297" width="1" height="12" fill="#000"/>
<rect x="874.5" y="301.5" width="4" height="7" fill="#fff" stroke="#000"/>
<rect x="884" y="290" width="1" height="23" fill="#000"/>
<rect x="882.5" y="290.5" width="4" height="11" fill="#fff" stroke="#000"/>
<rect x="892" y="290" width="1" height="23" fill="#000"/>
<rect x="890" y="290" width="5" height="4" fill="#000"/>
<rect x="900" y="286" width="1" height="25" fill="#000"/>
<rect x="898" y="294" width="5" height="8" fill="#000"/>
<rect x="908" y="264" width="1" height="44" fill="#000"/>
<rect x="906.5" y="288.5" width="4" height="14" fill="#fff" stroke="#000"/>
<rect x="916" y="262" width="1" height="30" fill="#000"/>
<rect x="914.5" y="264.5" width="4" height="26" fill="#fff" stroke="#000"/>
<rect x="924" y="261" width="1" height="10" fill="#000"/>
<rect x="922" y="265" width="5" height="1" fill="#000"/>
<rect x="932" y="265" width="1" height="14" fill="#000"/>
<rect x="930" y="265" width="5" height="11" fill="#000"/>
<rect x="940" y="267" width="1" height="10" fill="#000"/>
<rect x="938" y="274" width="5" height="1" fill="#000"/>
<rect x="948" y="250" width="1" height="26" fill="#000"/>
<rect x="946.5" y="251.5" width="4" height="23" fill="#fff" stroke="#000"/>
<rect x="956" y="245" width="1" height="46" fill="#000"/>
<rect x="954" y="252" width="5" height="30" fill="#000"/>
<rect x="964" y="264" width="1" height="21" fill="#000"/>
<rect x="962" y="280" width="5" height="1" fill="#000"/>
<rect x="972" y="269" width="1" height="15" fill="#000"/>
<rect x="970.5" y="273.5" width="4" height="9" fill="#fff" stroke="#000"/>
<rect x="980" y="268" width="1" height="18" fill="#000"/>
<rect x="978" y="273" width="5" height="1" fill="#000"/>
<rect x="988" y="270" width="1" height="20" fill="#000"/>
<rect x="986" y="272" width="5" height="9" fill="#000"/>
<rect x="996" y="266" width="1" height="32" fill="#000"/>
<rect x="994.5" y="267.5" width="4" height="13" fill="#fff" stroke="#000"/>
<rect x="1004" y="209" width="1" height="75" fill="#000"/>
<rect x="1002.5" y="223.5" width="4" height="45" fill="#fff" stroke="#000"/>
<rect x="1012" y="216" width="1" height="23" fill="#000"/>
<rect x="1010.5" y="220.5" width="4" height="3" fill="#fff" stroke="#000"/>
<rect x="1020" y="212" width="1" height="17" fill="#000"/>
<rect x="1018.5" y="212.5" width="4" height="8" fill="#fff" stroke="#000"/>
<rect x="1028" y="204" width="1" height="18" fill="#000"/>
<rect x="1026" y="212" width="5" height="10" fill="#000"/>
<rect x="1036" y="218" width="1" height="25" fill="#000"/>
<rect x="1034" y="221" width="5" height="16" fill="#000"/>
<rect x="1044" y="217" width="1" height="37" fill="#000"/>
<rect x="1042.5" y="221.5" width="4" height="13" fill="#fff" stroke="#000"/>
<rect x="1052" y="188" width="1" height="43" fill="#000"/>
<rect x="1050.5" y="210.5" width="4" height="11" fill="#fff" stroke="#000"/>
<rect x="1060" y="200" width="1" height="29" fill="#000"/>
<rect x="1058.5" y="200.5" width="4" height="10" fill="#fff" stroke="#000"/>
<rect x="1068" y="197" width="1" height="24" fill="#000"/>
<rect x="1066" y="200" width="5" height="13" fill="#000"/>
<rect x="1076" y="203" width="1" height="12" fill="#000"/>
<rect x="1074" y="212" width="5" height="1" fill="#000"/>
<rect x="1084" y="201" width="1" height="15" fill="#000"/>
<rect x="1082.5" y="203.5" width="4" height="9" fill="#fff" stroke="#000"/>
<rect x="1092" y="190" width="1" height="43" fill="#000"/>
<rect x="1090" y="203" width="5" height="30" fill="#000"/>
<rect x="1100" y="161" width="1" height="83" fill="#000"/>
<rect x="1098.5" y="166.5" width="4" height="66" fill="#fff" stroke="#000"/>
<rect x="1108" y="165" width="1" height="18" fill="#000"/>
<rect x="1106" y="167" width="5" height="13" fill="#000"/>
<rect x="1116" y="177" width="1" height="14" fill="#000"/>
<rect x="1114" y="181" width="5" height="10" fill="#000"/>
<rect x="1124" y="181" width="1" height="34" fill="#000"/>
<rect x="1122" y="189" width="5" height="22" fill="#000"/>
<rect x="1132" y="201" width="1" height="15" fill="#000"/>
<rect x="1130.5" y="203.5" width="4" height="5" fill="#fff" stroke="#000"/>
<rect x="1140" y="182" width="1" height="26" fill="#000"/>
<rect x="1138.5" y="199.5" width="4" height="7" fill="#fff" stroke="#000"/>
<rect x="1148" y="197" width="1" height="79" fill="#000"/>
<rect x="1146" y="199" width="5" height="62" fill="#000"/>
<rect x="1156" y="223" width="1" height="48" fill="#000"/>
<rect x="1154.5" y="224.5" width="4" height="36" fill="#fff" stroke="#000"/>
<rect x="1164" y="224" width="1" height="21" fill="#000"/>
<rect x="1162" y="224" width="5" height="3" fill="#000"/>
<rect x="1172" y="224" width="1" height="21" fill="#000"/>
<rect x="1170" y="226" width="5" height="19" fill="#000"/>
<rect x="1180" y="220" width="1" height="29" fill="#000"/>
<rect x="1178.5" y="220.5" width="4" height="23" fill="#fff" stroke="#000"/>
<rect x="1188" y="195" width="1" height="31" fill="#000"/>
<rect x="1186.5" y="213.5" width="4" height="7" fill="#fff" stroke="#000"/>
<rect x="1196" y="155" width="1" height="75" fill="#000"/>
<rect x="1194.5" y="159.5" width="4" height="55" fill="#fff" stroke="#000"/>
<rect x="1204" y="158" width="1" height="33" fill="#000"/>
<rect x="1202" y="158" width="5" height="19" fill="#000"/>
<rect x="1212" y="173" width="1" height="16" fill="#000"/>
<rect x="1210" y="176" width="5" height="6" fill="#000"/>
<rect x="1220" y="171" width="1" height="15" fill="#000"/>
<rect x="1218.5" y="178.5" width="4" height="2" fill="#fff" stroke="#000"/>
<rect x="1228" y="170" width="1" height="18" fill="#000"/>
<rect x="1226.5" y="175.5" width="4" height="4" fill="#fff" stroke="#000"/>
<rect x="1236" y="157" width="1" height="27" fill="#000"/>
<rect x="1234.5" y="170.5" width="4" height="5" fill="#fff" stroke="#000"/>
<rect x="1244" y="145" width="1" height="35" fill="#000"/>
<rect x="1242.5" y="146.5" width="4" height="24" fill="#fff" stroke="#000"/>
<rect x="1252" y="114" width="1" height="43" fill="#000"/>
<rect x="1250" y="147" width="5" height="5" fill="#000"/>
<rect x="1260" y="152" width="1" height="13" fill="#000"/>
<rect x="1258" y="152" width="5" height="6" fill="#000"/>
<rect x="1268" y="157" width="1" height="23" fill="#000"/>
<rect x="1266" y="157" width="5" height="18" fill="#000"/>
<rect x="1276" y="173" width="1" height="43" fill="#000"/>
<rect x="1274" y="173" width="5" height="39" fill="#000"/>
<rect x="1284" y="165" width="1" height="55" fill="#000"/>
<rect x="1282.5" y="174.5" width="4" height="37" fill="#fff" stroke="#000"/>
<rect x="1292" y="153" width="1" height="43" fill="#000"/>
<rect x="1290" y="176" width="5" height="8" fill="#000"/>
<rect x="1300" y="172" width="1" height="17" fill="#000"/>
<rect x="1298" y="183" width="5" height="4" fill="#000"/>
<rect x="1308" y="173" width="1" height="13" fill="#000"/>
<rect x="1306.5" y="178.5" width="4" height="7" fill="#fff" stroke="#000"/>
<rect x="1316" y="159" width="1" height="25" fill="#000"/>
<rect x="1314.5" y="164.5" width="4" height="15" fill="#fff" stroke="#000"/>
<rect x="1324" y="163" width="1" height="17" fill="#000"/>
<rect x="1322" y="163" width="5" height="11" fill="#000"/>
<rect x="1332" y="156" width="1" height="29" fill="#000"/>
<rect x="1330.5" y="160.5" width="4" height="12" fill="#fff" stroke="#000"/>
<rect x="1340" y="140" width="1" height="43" fill="#000"/>
<rect x="1338.5" y="140.5" width="4" height="20" fill="#fff" stroke="#000"/>
<rect x="1348" y="117" width="1" height="35" fill="#000"/>
<rect x="1346.5" y="118.5" width="4" height="23" fill="#fff" stroke="#000"/>
<rect x="1356" y="121" width="1" height="19" fill="#000"/>
<rect x="1354.5" y="122.5" width="4" height="16" fill="#fff" stroke="#000"/>
<rect x="1364" y="116" width="1" height="17" fill="#000"/>
<rect x="1362" y="123" width="5" height="8" fill="#000"/>
<rect x="1372" y="120" width="1" height="12" fill="#000"/>
<rect x="1370" y="128" width="5" height="3" fill="#000"/>
<rect x="1380" y="111" width="1" height="29" fill="#000"/>
<rect x="1378.5" y="129.5" width="4" height="2" fill="#fff" stroke="#000"/>
<rect x="1388" y="127" width="1" height="53" fill="#000"/>
<rect x="1386" y="131" width="5" height="21" fill="#000"/>
<rect x="1396" y="138" width="1" height="21" fill="#000"/>
<rect x="1394.5" y="142.5" width="4" height="9" fill="#fff" stroke="#000"/>
<rect x="1404" y="132" width="1" height="14" fill="#000"/>
<rect x="1402.5" y="133.5" width="4" height="9" fill="#fff" stroke="#000"/>
<rect x="1412" y="116" width="1" height="21" fill="#000"/>
<rect x="1410.5" y="121.5" width="4" height="14" fill="#fff" stroke="#000"/>
<rect x="1420" y="114" width="1" height="21" fill="#000"/>
<rect x="1418.5" y="116.5" width="4" height="6" fill="#fff" stroke="#000"/>
<rect x="1428" y="95" width="1" height="35" fill="#000"/>
<rect x="1426" y="116" width="5" height="14" fill="#000"/>
<rect x="1436" y="109" width="1" height="44" fill="#000"/>
<rect x="1434.5" y="110.5" width="4" height="19" fill="#fff" stroke="#000"/>
<rect x="1444" y="87" width="1" height="24" fill="#000"/>
<rect x="1442.5" y="89.5" width="4" height="21" fill="#fff" stroke="#000"/>
<rect x="1452" y="79" width="1" height="12" fill="#000"/>
<rect x="1450.5" y="79.5" width="4" height="9" fill="#fff" stroke="#000"/>
</g>
<g id="macd" shape-rendering="crispEdges" fill="#c0c0c0">
<rect x="4" y="708" width="1" height="58"/>
<rect x="12" y="708" width="1" height="57"/>
<rect x="20" y="708" width="1" height="51"/>
<rect x="28" y="708" width="1" height="44"/>
<rect x="36" y="708" width="1" height="37"/>
<rect x="44" y="708" width="1" height="35"/>
<rect x="52" y="708" width="1" height="39"/>
<rect x="60" y="708" width="1" height="43"/>
<rect x="68" y="708" width="1" height="41"/>
<rect x="76" y="708" width="1" height="42"/>
<rect x="84" y="708" width="1" height="31"/>
<rect x="92" y="708" width="1" height="29"/>
<rect x="100" y="708" width="1" height="27"/>
<rect x="108" y="708" width="1" height="26"/>
<rect x="116" y="708" width="1" height="29"/>
<rect x="124" y="708" width="1" height="31"/>
<rect x="132" y="708" width="1" height="34"/>
<rect x="140" y="708" width="1" height="49"/>
<rect x="148" y="708" width="1" height="58"/>
<rect x="156" y="708" width="1" height="62"/>
<rect x="164" y="708" width="1" height="65"/>
<rect x="172" y="708" width="1" height="68"/>
<rect x="180" y="708" width="1" height="58"/>
<rect x="188" y="708" width="1" height="60"/>
<rect x="196" y="708" width="1" height="55"/>
<rect x="204" y="708" width="1" height="51"/>
<rect x="212" y="708" width="1" height="41"/>
<rect x="220" y="708" width="1" height="32"/>
<rect x="228" y="708" width="1" height="33"/>
<rect x="236" y="708" width="1" height="37"/>
<rect x="244" y="708" width="1" height="40"/>
<rect x="252" y="708" width="1" height="39"/>
<rect x="260" y="708" width="1" height="35"/>
<rect x="268" y="708" width="1" height="35"/>
<rect x="276" y="708" width="1" height="42"/>
<rect x="284" y="708" width="1" height="46"/>
<rect x="292" y="708" width="1" height="45"/>
<rect x="300" y="708" width="1" height="49"/>
<rect x="308" y="708" width="1" height="52"/>
<rect x="316" y="708" width="1" height="56"/>
<rect x="324" y="708" width="1" height="61"/>
<rect x="332" y="708" width="1" height="60"/>
<rect x="340" y="708" width="1" height="58"/>
<rect x="348" y="708" width="1" height="52"/>
<rect x="356" y="708" width="1" height="46"/>
<rect x="364" y="708" width="1" height="43"/>
<rect x="372" y="708" width="1" height="45"/>
<rect x="380" y="708" width="1" height="39"/>
<rect x="388" y="708" width="1" height="27"/>
<rect x="396" y="708" width="1" height="18"/>
<rect x="404" y="708" width="1" height="11"/>
<rect x="412" y="708" width="1" height="9"/>
<rect x="420" y="708" width="1" height="2"/>
<rect x="428" y="708" width="1" height="3"/>
<rect x="436" y="708" width="1" height="7"/>
<rect x="444" y="708" width="1" height="11"/>
<rect x="452" y="708" width="1" height="20"/>
<rect x="460" y="708" width="1" height="24"/>
<rect x="468" y="708" width="1" height="14"/>
<rect x="476" y="708" width="1" height="12"/>
<rect x="484" y="708" width="1" height="12"/>
<rect x="492" y="708" width="1" height="10"/>
<rect x="500" y="708" width="1" height="9"/>
<rect x="508" y="708" width="1" height="2"/>
<rect x="516" y="704" width="1" height="5"/>
<rect x="524" y="708" width="1" height="1"/>
<rect x="532" y="707" width="1" height="2"/>
<rect x="540" y="701" width="1" height="8"/>
<rect x="548" y="698" width="1" height="11"/>
<rect x="556" y="693" width="1" height="16"/>
<rect x="564" y="686" width="1" height="23"/>
<rect x="572" y="668" width="1" height="41"/>
<rect x="580" y="660" width="1" height="49"/>
<rect x="588" y="651" width="1" height="58"/>
<rect x="596" y="645" width="1" height="64"/>
<rect x="604" y="644" width="1" height="65"/>
<rect x="612" y="649" width="1" height="60"/>
<rect x="620" y="659" width="1" height="50"/>
<rect x="628" y="671" width="1" height="38"/>
<rect x="636" y="685" width="1" height="24"/>
<rect x="644" y="698" width="1" height="11"/>
<rect x="652" y="708" width="1" height="1"/>
<rect x="660" y="708" width="1" height="14"/>
<rect x="668" y="708" width="1" height="20"/>
<rect x="676" y="708" width="1" height="28"/>
<rect x="684" y="708" width="1" height="32"/>
<rect x="692" y="708" width="1" height="35"/>
<rect x="700" y="708" width="1" height="35"/>
<rect x="708" y="708" width="1" height="28"/>
<rect x="716" y="708" width="1" height="26"/>
<rect x="724" y="708" width="1" height="16"/>
<rect x="732" y="708" width="1" height="7"/>
<rect x="740" y="708" width="1" height="3"/>
<rect x="748" y="704" width="1" height="5"/>
<rect x="756" y="690" width="1" height="19"/>
<rect x="764" y="671" width="1" height="38"/>
<rect x="772" y="653" width="1" height="56"/>
<rect x="780" y="642" width="1" height="67"/>
<rect x="788" y="634" width="1" height="75"/>
<rect x="796" y="624" width="1" height="85"/>
<rect x="804" y="601" width="1" height="108"/>
<rect x="812" y="591" width="1" height="118"/>
<rect x="820" y="582" width="1" height="127"/>
<rect x="828" y="580" width="1" height="129"/>
<rect x="836" y="579" width="1" height="130"/>
<rect x="844" y="580" width="1" height="129"/>
<rect x="852" y="581" width="1" height="128"/>
<rect x="860" y="587" width="1" height="122"/>
<rect x="868" y="593" width="1" height="116"/>
<rect x="876" y="598" width="1" height="111"/>
<rect x="884" y="600" width="1" height="109"/>
<rect x="892" y="603" width="1" height="106"/>
<rect x="900" y="609" width="1" height="100"/>
<rect x="908" y="612" width="1" height="97"/>
<rect x="916" y="609" width="1" height="100"/>
<rect x="924" y="608" width="1" height="101"/>
<rect x="932" y="610" width="1" height="99"/>
<rect x="940" y="613" width="1" height="96"/>
<rect x="948" y="611" width="1" height="98"/>
<rect x="956" y="618" width="1" height="91"/>
<rect x="964" y="625" width="1" height="84"/>
<rect x="972" y="629" width="1" height="80"/>
<rect x="980" y="633" width="1" height="76"/>
<rect x="988" y="638" width="1" height="71"/>
<rect x="996" y="641" width="1" height="68"/>
<rect x="1004" y="632" width="1" height="77"/>
<rect x="1012" y="625" width="1" height="84"/>
<rect x="1020" y="619" width="1" height="90"/>
<rect x="1028" y="618" width="1" height="91"/>
<rect x="1036" y="621" width="1" height="88"/>
<rect x="1044" y="621" width="1" height="88"/>
<rect x="1052" y="620" width="1" height="89"/>
<rect x="1060" y="617" width="1" height="92"/>
<rect x="1068" y="619" width="1" height="90"/>
<rect x="1076" y="621" width="1" height="88"/>
<rect x="1084" y="622" width="1" height="87"/>
<rect x="1092" y="631" width="1" height="78"/>
<rect x="1100" y="622" width="1" height="87"/>
<rect x="1108" y="619" width="1" height="90"/>
<rect x="1116" y="621" width="1" height="88"/>
<rect x="1124" y="628" width="1" height="81"/>
<rect x="1132" y="633" width="1" height="76"/>
<rect x="1140" y="637" width="1" height="72"/>
<rect x="1148" y="656" width="1" height="53"/>
<rect x="1156" y="662" width="1" height="47"/>
<rect x="1164" y="669" width="1" height="40"/>
<rect x="1172" y="678" width="1" height="31"/>
<rect x="1180" y="680" width="1" height="29"/>
<rect x="1188" y="680" width="1" height="29"/>
<rect x="1196" y="667" width="1" height="42"/>
<rect x="1204" y="662" width="1" height="47"/>
<rect x="1212" y="659" width="1" height="50"/>
<rect x="1220" y="657" width="1" height="52"/>
<rect x="1228" y="655" width="1" height="54"/>
<rect x="1236" y="653" width="1" height="56"/>
<rect x="1244" y="646" width="1" height="63"/>
<rect x="1252" y="643" width="1" height="66"/>
<rect x="1260" y="643" width="1" height="66"/>
<rect x="1268" y="647" width="1" height="62"/>
<rect x="1276" y="660" width="1" height="49"/>
<rect x="1284" y="662" width="1" height="47"/>
<rect x="1292" y="667" width="1" height="42"/>
<rect x="1300" y="671" width="1" height="38"/>
<rect x="1308" y="673" width="1" height="36"/>
<rect x="1316" y="672" width="1" height="37"/>
<rect x="1324" y="673" width="1" height="36"/>
<rect x="1332" y="672" width="1" height="37"/>
<rect x="1340" y="667" width="1" height="42"/>
<rect x="1348" y="656" width="1" height="53"/>
<rect x="1356" y="650" width="1" height="59"/>
<rect x="1364" y="648" width="1" height="61"/>
<rect x="1372" y="647" width="1" height="62"/>
<rect x="1380" y="647" width="1" height="62"/>
<rect x="1388" y="654" width="1" height="55"/>
<rect x="1396" y="657" width="1" height="52"/>
<rect x="1404" y="658" width="1" height="51"/>
<rect x="1412" y="657" width="1" height="52"/>
<rect x="1420" y="655" width="1" height="54"/>
<rect x="1428" y="656" width="1" height="53"/>
<rect x="1436" y="653" width="1" height="56"/>
<rect x="1444" y="650" width="1" height="59"/>
<rect x="1452" y="640" width="1" height="69"/>
</g>
<polyline points="-3.5,757.3 4.5,759.4 12.5,760.5 20.5,760.5 28.5,757.6 36.5,756.6 44.5,754.4 52.5,754.4 60.5,754.4 68.5,752.8 76.5,751 84.5,748.1 92.5,745.6 100.5,743.7 108.5,742.5 116.5,741.8 124.5,740.9 132.5,739.9 140.5,740.8 148.5,742.6 156.5,746 164.5,750.1 172.5,754.6 180.5,758.2 188.5,761.6 196.5,764.3 204.5,766.1 212.5,765.1 220.5,762.3 228.5,759 236.5,755.9 244.5,752.8 252.5,750.7 260.5,748 268.5,745.7 276.5,744.8 284.5,745.4 292.5,746.9 300.5,748.7 308.5,750.3 316.5,752.1 324.5,754.6 332.5,757.4 340.5,759.9 348.5,761 356.5,761 364.5,760.8 372.5,760.4 380.5,758.9 388.5,755.7 396.5,750.8 404.5,745.3 412.5,739.8 420.5,734.3 428.5,729.5 436.5,725.5 444.5,721.7 452.5,719.6 460.5,719.3 468.5,718.9 476.5,719.1 484.5,719.4 492.5,720.3 500.5,720.9 508.5,720.3 516.5,718.7 524.5,716.5 532.5,713.8 540.5,711.5 548.5,709.1 556.5,706.2 564.5,702.6 572.5,697.2 580.5,691.7 588.5,685.9 596.5,678.9 604.5,671.9 612.5,666.1 620.5,661.8 628.5,659.4 636.5,659.2 644.5,662.6 652.5,667.9 660.5,675.7 668.5,684.8 676.5,695 684.5,705.1 692.5,714.4 700.5,722.3 708.5,728 716.5,731.9 724.5,733.6 732.5,732.9 740.5,731.1 748.5,727.6 756.5,722 764.5,714 772.5,704 780.5,693.6 788.5,682.5 796.5,671.5 804.5,658.8 812.5,645.5 820.5,631.9 828.5,619.7 836.5,609.5 844.5,601.4 852.5,594.6 860.5,589.3 868.5,585.9 876.5,585.6 884.5,586.6 892.5,588.9 900.5,592.1 908.5,595.8 916.5,599 924.5,602.1 932.5,604.7 940.5,606.9 948.5,608.3 956.5,610.4 964.5,612.8 972.5,615 980.5,617.4 988.5,620.5 996.5,624.2 1004.5,626.6 1012.5,627.9 1020.5,628.8 1028.5,628.8 1036.5,628.4 1044.5,627.5 1052.5,626.1 1060.5,623.8 1068.5,621.4 1076.5,620.2 1084.5,619.9 1092.5,621.2 1100.5,621.7 1108.5,621.5 1116.5,621.5 1124.5,622.3 1132.5,624.1 1140.5,626.1 1148.5,630 1156.5,634.4 1164.5,638.6 1172.5,644.9 1180.5,651.6 1188.5,658.2 1196.5,662.6 1204.5,665.8 1212.5,668.2 1220.5,668.3 1228.5,667.6 1236.5,665.8 1244.5,662.2 1252.5,658.1 1260.5,654 1268.5,651.7 1276.5,651.5 1284.5,651.8 1292.5,653 1300.5,654.7 1308.5,657 1316.5,659.8 1324.5,663.2 1332.5,666.4 1340.5,668.7 1348.5,668.2 1356.5,666.9 1364.5,664.8 1372.5,662.1 1380.5,659.2 1388.5,657.2 1396.5,655.4 1404.5,653.8 1412.5,652.7 1420.5,652.5 1428.5,653.2 1436.5,653.7 1444.5,654 1452.5,653.2" fill="none" stroke="#ff0000" stroke-width="1" stroke-dasharray="3,3" shape-rendering="crispEdges"/>
<g shape-rendering="crispEdges">
<line x1="0" y1="818.5" x2="1647" y2="818.5" stroke="#c0c0c0" stroke-dasharray="3,3"/>
<line x1="0" y1="860.5" x2="1647" y2="860.5" stroke="#c0c0c0" stroke-dasharray="3,3"/>
<line x1="0" y1="909.5" x2="1647" y2="909.5" stroke="#c0c0c0" stroke-dasharray="3,3"/>
</g>
<polyline points="-3.5,890 4.5,870.9 12.5,868 20.5,863.4 28.5,862.4 36.5,861.1 44.5,863.6 52.5,871.7 60.5,872.1 68.5,865.9 76.5,869.6 84.5,856.7 92.5,862.4 100.5,864.7 108.5,863.9 116.5,867.6 124.5,869.8 132.5,870.8 140.5,882.6 148.5,878.9 156.5,877.2 164.5,876.8 172.5,877.7 180.5,861.4 188.5,872.1 196.5,865.8 204.5,864.2 212.5,858.3 220.5,858.5 228.5,867.2 236.5,871.6 244.5,870.4 252.5,867.9 260.5,862.6 268.5,868.2 276.5,875.1 284.5,874.7 292.5,867.7 300.5,874.4 308.5,874.4 316.5,876.5 324.5,880 332.5,871.6 340.5,871.2 348.5,865 356.5,863.1 364.5,867.9 372.5,873.2 380.5,861.7 388.5,852.7 396.5,852.9 404.5,855.3 412.5,861.4 420.5,852.6 428.5,862.6 436.5,866.2 444.5,867.7 452.5,873.8 460.5,869.8 468.5,854.2 476.5,860 484.5,863.4 492.5,860.4 500.5,859.8 508.5,853.8 516.5,850.8 524.5,865.4 532.5,858.6 540.5,852.6 548.5,855.6 556.5,852.2 564.5,849.2 572.5,837.8 580.5,844.8 588.5,842.2 596.5,842.3 604.5,846.7 612.5,853.9 620.5,861.3 628.5,864.6 636.5,870.3 644.5,871.1 652.5,874.3 660.5,876.6 668.5,869.9 676.5,874.9 684.5,872.3 692.5,871 700.5,867.8 708.5,858.9 716.5,863.1 724.5,853.1 732.5,851.8 740.5,856.2 748.5,850.9 756.5,840.5 764.5,834.6 772.5,831.8 780.5,835.9 788.5,835.8 796.5,831.8 804.5,822.3 812.5,831.4 820.5,830.1 828.5,836.3 836.5,835.6 844.5,835.9 852.5,834.2 860.5,842.5 868.5,842 876.5,840.2 884.5,837.2 892.5,839.1 900.5,843.2 908.5,839.3 916.5,833.1 924.5,833.5 932.5,838.9 940.5,838.6 948.5,832.2 956.5,847.5 964.5,847.5 972.5,845.1 980.5,844.9 988.5,848.7 996.5,844 1004.5,831.6 1012.5,830.8 1020.5,829.1 1028.5,834.3 1036.5,842.4 1044.5,838.1 1052.5,835 1060.5,832.5 1068.5,839.2 1076.5,839.2 1084.5,836.3 1092.5,852.1 1100.5,834.2 1108.5,839.4 1116.5,844.1 1124.5,852 1132.5,849.9 1140.5,848.9 1148.5,868.7 1156.5,858.2 1164.5,858.8 1172.5,863.8 1180.5,857.1 1188.5,855.2 1196.5,842.6 1204.5,848 1212.5,849.3 1220.5,848.8 1228.5,848 1236.5,846.6 1244.5,840.7 1252.5,842.9 1260.5,845.4 1268.5,852.1 1276.5,864.7 1284.5,853.9 1292.5,856.6 1300.5,857.5 1308.5,855.3 1316.5,851 1324.5,854.1 1332.5,850.3 1340.5,844.6 1348.5,839 1356.5,840.9 1364.5,844.5 1372.5,844.4 1380.5,844.2 1388.5,854.5 1396.5,851.2 1404.5,848.1 1412.5,844.2 1420.5,842.6 1428.5,849.1 1436.5,842.8 1444.5,836.7 1452.5,834.2" fill="none" stroke="#1e90ff" stroke-width="1" shape-rendering="crispEdges"/>
<g id="paxis" font-size="9" fill="#000">
<rect x="1648" y="34" width="2" height="1" fill="#000" shape-rendering="crispEdges"/>
<text x="1652.8" y="37.6" font-size="9.7" textLength="33" lengthAdjust="spacingAndGlyphs">1.36830</text>
<rect x="1648" y="66" width="2" height="1" fill="#000" shape-rendering="crispEdges"/>
<text x="1652.8" y="69.6" font-size="9.7" textLength="33" lengthAdjust="spacingAndGlyphs">1.36490</text>
<rect x="1648" y="100" width="2" height="1" fill="#000" shape-rendering="crispEdges"/>
<text x="1652.8" y="103.6" font-size="9.7" textLength="33" lengthAdjust="spacingAndGlyphs">1.36140</text>
<rect x="1648" y="133" width="2" height="1" fill="#000" shape-rendering="crispEdges"/>
<text x="1652.8" y="136.6" font-size="9.7" textLength="33" lengthAdjust="spacingAndGlyphs">1.35790</text>
<rect x="1648" y="166" width="2" height="1" fill="#000" shape-rendering="crispEdges"/>
<text x="1652.8" y="169.6" font-size="9.7" textLength="33" lengthAdjust="spacingAndGlyphs">1.35440</text>
<rect x="1648" y="199" width="2" height="1" fill="#000" shape-rendering="crispEdges"/>
<text x="1652.8" y="202.6" font-size="9.7" textLength="33" lengthAdjust="spacingAndGlyphs">1.35090</text>
<rect x="1648" y="232" width="2" height="1" fill="#000" shape-rendering="crispEdges"/>
<text x="1652.8" y="235.6" font-size="9.7" textLength="33" lengthAdjust="spacingAndGlyphs">1.34750</text>
<rect x="1648" y="265" width="2" height="1" fill="#000" shape-rendering="crispEdges"/>
<text x="1652.8" y="268.6" font-size="9.7" textLength="33" lengthAdjust="spacingAndGlyphs">1.34400</text>
<rect x="1648" y="298" width="2" height="1" fill="#000" shape-rendering="crispEdges"/>
<text x="1652.8" y="301.6" font-size="9.7" textLength="33" lengthAdjust="spacingAndGlyphs">1.34050</text>
<rect x="1648" y="331" width="2" height="1" fill="#000" shape-rendering="crispEdges"/>
<text x="1652.8" y="334.6" font-size="9.7" textLength="33" lengthAdjust="spacingAndGlyphs">1.33700</text>
<rect x="1648" y="364" width="2" height="1" fill="#000" shape-rendering="crispEdges"/>
<text x="1652.8" y="367.6" font-size="9.7" textLength="33" lengthAdjust="spacingAndGlyphs">1.33350</text>
<rect x="1648" y="397" width="2" height="1" fill="#000" shape-rendering="crispEdges"/>
<text x="1652.8" y="400.6" font-size="9.7" textLength="33" lengthAdjust="spacingAndGlyphs">1.33010</text>
<rect x="1648" y="430" width="2" height="1" fill="#000" shape-rendering="crispEdges"/>
<text x="1652.8" y="433.6" font-size="9.7" textLength="33" lengthAdjust="spacingAndGlyphs">1.32660</text>
<rect x="1648" y="463" width="2" height="1" fill="#000" shape-rendering="crispEdges"/>
<text x="1652.8" y="466.6" font-size="9.7" textLength="33" lengthAdjust="spacingAndGlyphs">1.32310</text>
<rect x="1648" y="496" width="2" height="1" fill="#000" shape-rendering="crispEdges"/>
<text x="1652.8" y="499.6" font-size="9.7" textLength="33" lengthAdjust="spacingAndGlyphs">1.31960</text>
<rect x="1648" y="530" width="2" height="1" fill="#000" shape-rendering="crispEdges"/>
<text x="1652.8" y="533.6" font-size="9.7" textLength="33" lengthAdjust="spacingAndGlyphs">1.31610</text>
<rect x="1648" y="562" width="2" height="1" fill="#000" shape-rendering="crispEdges"/>
<text x="1652.8" y="565.6" font-size="9.7" textLength="33" lengthAdjust="spacingAndGlyphs">1.31270</text>
<rect x="1648" y="569" width="2" height="1" fill="#000"/><text x="1651" y="578">0.004695</text>
<rect x="1648" y="708" width="2" height="1" fill="#000"/><text x="1651" y="711.5">0.00</text>
<rect x="1648" y="785" width="2" height="1" fill="#000"/><text x="1651" y="783">-0.002602</text>
<rect x="1648" y="790" width="2" height="1" fill="#000"/><text x="1651" y="799">100</text>
<rect x="1648" y="818" width="2" height="1" fill="#000"/><text x="1651" y="821.5">80</text>
<rect x="1648" y="860" width="2" height="1" fill="#000"/><text x="1651" y="863.5">50</text>
<rect x="1648" y="909" width="2" height="1" fill="#000"/><text x="1651" y="912.5">15</text>
<rect x="1648" y="930" width="2" height="1" fill="#000"/><text x="1651" y="927.5">0</text>
</g>
<g font-size="9" fill="#fff">
<rect x="1649" y="34" width="41" height="11" fill="#ff0000" shape-rendering="crispEdges"/>
<text x="1652.8" y="42.8" font-size="9.7" textLength="33" lengthAdjust="spacingAndGlyphs">1.36765</text>
<rect x="1649" y="55" width="41" height="11" fill="#ff4500" shape-rendering="crispEdges"/>
<text x="1652.8" y="63.8" font-size="9.7" textLength="33" lengthAdjust="spacingAndGlyphs">1.36552</text>
<rect x="1649" y="74" width="41" height="11" fill="#000000" shape-rendering="crispEdges"/>
<text x="1652.8" y="82.8" font-size="9.7" textLength="33" lengthAdjust="spacingAndGlyphs">1.36354</text>
<rect x="1649" y="85" width="41" height="11" fill="#32cd32" shape-rendering="crispEdges"/>
<text x="1652.8" y="93.8" font-size="9.7" textLength="33" lengthAdjust="spacingAndGlyphs">1.36228</text>
<rect x="1649" y="104" width="41" height="11" fill="#0000ff" shape-rendering="crispEdges"/>
<text x="1652.8" y="112.8" font-size="9.7" textLength="33" lengthAdjust="spacingAndGlyphs">1.36029</text>
<rect x="1649" y="124" width="41" height="11" fill="#0000ff" shape-rendering="crispEdges"/>
<text x="1652.8" y="132.8" font-size="9.7" textLength="33" lengthAdjust="spacingAndGlyphs">1.35818</text>
</g>
<g font-size="9.1" fill="#000">
<text x="-12.6" y="943.6">30 Nov 2021</text>
<rect x="52" y="932" width="1" height="3" fill="#000" shape-rendering="crispEdges"/>
<text x="51.5" y="943.6">1 Dec 16:00</text>
<rect x="116" y="932" width="1" height="3" fill="#000" shape-rendering="crispEdges"/>
<text x="115.5" y="943.6">3 Dec 00:00</text>
<rect x="180" y="932" width="1" height="3" fill="#000" shape-rendering="crispEdges"/>
<text x="179.5" y="943.6">6 Dec 08:00</text>
<rect x="244" y="932" width="1" height="3" fill="#000" shape-rendering="crispEdges"/>
<text x="243.5" y="943.6">7 Dec 16:00</text>
<rect x="308" y="932" width="1" height="3" fill="#000" shape-rendering="crispEdges"/>
<text x="307.5" y="943.6">9 Dec 00:00</text>
<rect x="372" y="932" width="1" height="3" fill="#000" shape-rendering="crispEdges"/>
<text x="371.5" y="943.6">10 Dec 08:00</text>
<rect x="436" y="932" width="1" height="3" fill="#000" shape-rendering="crispEdges"/>
<text x="435.5" y="943.6">13 Dec 16:00</text>
<rect x="500" y="932" width="1" height="3" fill="#000" shape-rendering="crispEdges"/>
<text x="499.5" y="943.6">15 Dec 00:00</text>
<rect x="564" y="932" width="1" height="3" fill="#000" shape-rendering="crispEdges"/>
<text x="563.5" y="943.6">16 Dec 08:00</text>
<rect x="628" y="932" width="1" height="3" fill="#000" shape-rendering="crispEdges"/>
<text x="627.5" y="943.6">17 Dec 16:00</text>
<rect x="692" y="932" width="1" height="3" fill="#000" shape-rendering="crispEdges"/>
<text x="691.5" y="943.6">21 Dec 00:00</text>
<rect x="756" y="932" width="1" height="3" fill="#000" shape-rendering="crispEdges"/>
<text x="755.5" y="943.6">22 Dec 08:00</text>
<rect x="820" y="932" width="1" height="3" fill="#000" shape-rendering="crispEdges"/>
<text x="819.5" y="943.6">23 Dec 16:00</text>
<rect x="884" y="932" width="1" height="3" fill="#000" shape-rendering="crispEdges"/>
<text x="883.5" y="943.6">27 Dec 00:00</text>
<rect x="948" y="932" width="1" height="3" fill="#000" shape-rendering="crispEdges"/>
<text x="947.5" y="943.6">28 Dec 08:00</text>
<rect x="1012" y="932" width="1" height="3" fill="#000" shape-rendering="crispEdges"/>
<text x="1011.5" y="943.6">29 Dec 16:00</text>
<rect x="1076" y="932" width="1" height="3" fill="#000" shape-rendering="crispEdges"/>
<text x="1075.5" y="943.6">31 Dec 00:00</text>
<rect x="1140" y="932" width="1" height="3" fill="#000" shape-rendering="crispEdges"/>
<text x="1139.5" y="943.6">3 Jan 08:00</text>
<rect x="1204" y="932" width="1" height="3" fill="#000" shape-rendering="crispEdges"/>
<text x="1203.5" y="943.6">4 Jan 16:00</text>
<rect x="1268" y="932" width="1" height="3" fill="#000" shape-rendering="crispEdges"/>
<text x="1267.5" y="943.6">6 Jan 00:00</text>
<rect x="1332" y="932" width="1" height="3" fill="#000" shape-rendering="crispEdges"/>
<text x="1331.5" y="943.6">7 Jan 08:00</text>
<rect x="1396" y="932" width="1" height="3" fill="#000" shape-rendering="crispEdges"/>
<text x="1395.5" y="943.6">10 Jan 16:00</text>
</g>
<text x="3.6" y="41.6" font-size="9.2" fill="#000" textLength="203" lengthAdjust="spacingAndGlyphs" xml:space="preserve">GBPUSD-,H4  1.36265 1.36354 1.36235 1.36354</text>
<text x="-6.85" y="580" font-size="9.3" fill="#000">MACD(12,26,9) 0.002322 0.001900</text>
<text x="-8.2" y="801" font-size="9.3" fill="#000">RSI(14) 68.4585</text>
<polygon points="1459,31 1468,31 1463.5,36" fill="#c0c0c0"/>
<line x1="1157" y1="245.5" x2="1476" y2="80" stroke="#ff0000" stroke-width="3"/>
<polygon points="1473.5,75 1487.5,73.5 1478.5,83.5" fill="#ff0000"/>
<rect x="1378" y="88" width="151" height="7" fill="#00ff00" shape-rendering="crispEdges"/>
<line x1="1385" y1="663.5" x2="1447" y2="647" stroke="#ff0000" stroke-width="3"/>
<polygon points="1442.5,642.5 1455,644.3 1445.5,651.5" fill="#ff0000"/>
<line x1="1377" y1="859.5" x2="1449" y2="838" stroke="#ff0000" stroke-width="3"/>
<polygon points="1444,833.5 1457,834.5 1448,842.5" fill="#ff0000"/>
<g id="oneclick" shape-rendering="crispEdges">
<rect x="0" y="50" width="212" height="58" fill="#fff"/>
<rect x="0" y="50" width="43" height="24" fill="url(#gTop)"/>
<rect x="0" y="50" width="43" height="1" fill="#1c1ca6"/><rect x="42" y="50" width="1" height="24" fill="#1c1ca6"/>
<rect x="158" y="50" width="52" height="24" fill="url(#gTop)"/>
<rect x="158" y="50" width="52" height="1" fill="#1c1ca6"/><rect x="158" y="50" width="1" height="24" fill="#1c1ca6"/><rect x="209" y="50" width="1" height="24" fill="#1c1ca6"/>
<rect x="0" y="73" width="43" height="1" fill="#2d2de6"/><rect x="158" y="73" width="52" height="1" fill="#2d2de6"/>
<rect x="0" y="74" width="101" height="33" fill="url(#gBot)"/>
<rect x="102" y="74" width="108" height="33" fill="url(#gBot)"/>
<rect x="0" y="106" width="101" height="1" fill="#00008c"/><rect x="102" y="106" width="108" height="1" fill="#00008c"/>
<rect x="100" y="74" width="1" height="33" fill="#0a0a9a"/><rect x="102" y="74" width="1" height="33" fill="#0a0a9a"/><rect x="209" y="73" width="1" height="34" fill="#0a0a9a"/>
<rect x="0" y="73" width="40" height="1" fill="#2222b8"/><rect x="0" y="74" width="40" height="1" fill="#6d6dff"/>
<rect x="162" y="73" width="44" height="1" fill="#2222b8"/><rect x="162" y="74" width="44" height="1" fill="#6d6dff"/>
<rect x="45" y="50" width="112" height="22" fill="#fff"/>
<rect x="45.5" y="50.5" width="110" height="21" fill="none" stroke="#a8a8a8"/>
<rect x="47" y="52" width="18" height="18" fill="url(#gBtn)"/><rect x="46.5" y="51.5" width="19" height="19" fill="none" stroke="#c8c8c8"/>
<rect x="135" y="52" width="19" height="18" fill="url(#gBtn)"/><rect x="134.5" y="51.5" width="20" height="19" fill="none" stroke="#c8c8c8"/>
<rect x="66" y="51" width="1" height="20" fill="#b8b8b8"/><rect x="134" y="51" width="1" height="20" fill="#b8b8b8"/>
</g>
<path d="M53,59 H59 L56,62 Z" fill="#4a66c0"/>
<path d="M142,62 H148 L145,59 Z" fill="#4a66c0"/>
<g fill="#fff">
<text x="3.5" y="65.8" font-size="12.4" textLength="25.4" lengthAdjust="spacingAndGlyphs">SELL</text>
<text x="171.5" y="65.8" font-size="12.4" textLength="23.2" lengthAdjust="spacingAndGlyphs">BUY</text>
<text x="11.5" y="101.8" font-size="12" font-weight="bold" textLength="23.2" lengthAdjust="spacingAndGlyphs">1.36</text>
<text x="121.5" y="101.8" font-size="12" font-weight="bold" textLength="23.2" lengthAdjust="spacingAndGlyphs">1.36</text>
<text x="39.2" y="101.8" font-size="32.5" textLength="33" lengthAdjust="spacingAndGlyphs">35</text>
<text x="150.4" y="101.8" font-size="32.5" textLength="34" lengthAdjust="spacingAndGlyphs">37</text>
<text x="77.6" y="85.8" font-size="10.2" font-weight="bold">4</text>
<text x="189.2" y="85.8" font-size="10.2" font-weight="bold">9</text>
</g>
<text x="107.6" y="65" font-size="12.3" fill="#000" textLength="22.6" lengthAdjust="spacingAndGlyphs">1.00</text>
</svg></body></html>
